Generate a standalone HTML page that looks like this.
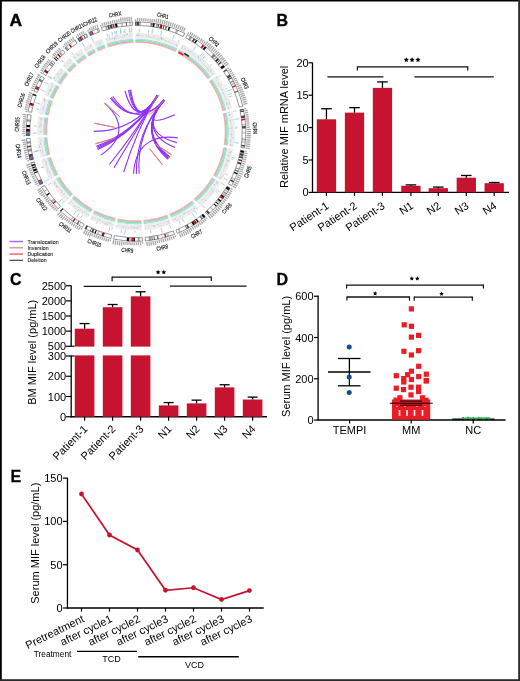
<!DOCTYPE html>
<html><head><meta charset="utf-8"><style>
html,body{margin:0;padding:0;background:#fff;width:520px;height:681px;overflow:hidden;}
svg{display:block;will-change:transform;}
text{font-family:"Liberation Sans", sans-serif;}
</style></head><body>
<svg width="520" height="681" viewBox="0 0 520 681">
<rect x="0" y="0" width="520" height="681" fill="#fff"/>
<g><path d="M135.56,42.20 A89.4,89.4 0 0 1 175.72,51.51" fill="none" stroke="#ffaec6" stroke-width="1.3"/><path d="M135.55,41.35 A90.25,90.25 0 0 1 176.10,50.75" fill="none" stroke="#d88a84" stroke-width="0.6"/><path d="M135.55,40.50 A91.1,91.1 0 0 1 176.48,49.99" fill="none" stroke="#80ec98" stroke-width="1.4"/><path d="M135.54,39.25 A92.35,92.35 0 0 1 177.03,48.87" fill="none" stroke="#a6d4fa" stroke-width="1.2"/><path d="M135.51,32.60 A99.0,99.0 0 0 1 179.99,42.91 L177.30,48.33 A92.95,92.95 0 0 0 135.54,38.65 Z" fill="#eeeeee"/><rect x="149.40" y="37.18" width="0.8" height="0.8" fill="#bbbbbb"/><rect x="138.37" y="34.86" width="0.8" height="0.8" fill="#aaaaaa"/><rect x="161.30" y="36.96" width="0.8" height="0.8" fill="#cccccc"/><rect x="136.80" y="35.19" width="0.8" height="0.8" fill="#bbbbbb"/><rect x="145.90" y="35.32" width="0.8" height="0.8" fill="#bbbbbb"/><rect x="170.80" y="43.03" width="0.8" height="0.8" fill="#cccccc"/><rect x="163.07" y="38.65" width="0.8" height="0.8" fill="#bbbbbb"/><rect x="160.59" y="38.62" width="0.8" height="0.8" fill="#cccccc"/><rect x="137.23" y="33.71" width="0.8" height="0.8" fill="#aaaaaa"/><rect x="153.81" y="36.54" width="0.8" height="0.8" fill="#aaaaaa"/><rect x="160.11" y="37.46" width="0.8" height="0.8" fill="#bbbbbb"/><rect x="161.00" y="37.86" width="0.8" height="0.8" fill="#aaaaaa"/><rect x="139.51" y="34.29" width="0.8" height="0.8" fill="#bbbbbb"/><rect x="162.48" y="38.79" width="0.8" height="0.8" fill="#d0d0d0"/><rect x="169.17" y="41.12" width="0.8" height="0.8" fill="#d0d0d0"/><rect x="151.11" y="37.10" width="0.8" height="0.8" fill="#cccccc"/><rect x="165.63" y="40.70" width="0.8" height="0.8" fill="#aaaaaa"/><rect x="158.74" y="36.42" width="0.8" height="0.8" fill="#d0d0d0"/><rect x="148.20" y="34.08" width="0.8" height="0.8" fill="#bbbbbb"/><rect x="157.58" y="38.70" width="0.8" height="0.8" fill="#aaaaaa"/><rect x="141.92" y="35.20" width="0.8" height="0.8" fill="#bbbbbb"/><rect x="176.20" y="45.57" width="0.8" height="0.8" fill="#aaaaaa"/><rect x="150.22" y="36.60" width="0.8" height="0.8" fill="#d0d0d0"/><rect x="160.76" y="38.46" width="0.8" height="0.8" fill="#bbbbbb"/><rect x="176.09" y="43.98" width="0.8" height="0.8" fill="#bbbbbb"/><rect x="137.86" y="34.27" width="0.8" height="0.8" fill="#d0d0d0"/><rect x="147.79" y="36.13" width="0.8" height="0.8" fill="#aaaaaa"/><rect x="136.13" y="35.09" width="0.8" height="0.8" fill="#cccccc"/><rect x="162.13" y="38.70" width="0.8" height="0.8" fill="#cccccc"/><rect x="168.39" y="42.09" width="0.8" height="0.8" fill="#cccccc"/><rect x="153.11" y="35.07" width="0.8" height="0.8" fill="#d0d0d0"/><path d="M135.86,36.00 A95.6,95.6 0 0 1 178.18,45.81" fill="none" stroke="#c8c8c8" stroke-width="0.7" stroke-dasharray="0.6 0.9"/><line x1="139.23" y1="32.45" x2="139.33" y2="29.16" stroke="#6aaee0" stroke-width="0.6"/><line x1="160.61" y1="35.50" x2="161.86" y2="30.63" stroke="#6aaee0" stroke-width="0.6"/><line x1="172.46" y1="39.34" x2="174.28" y2="34.73" stroke="#6aaee0" stroke-width="0.6"/><line x1="148.33" y1="33.17" x2="148.72" y2="30.03" stroke="#6aaee0" stroke-width="0.6"/><line x1="152.00" y1="33.70" x2="152.81" y2="28.73" stroke="#6aaee0" stroke-width="0.6"/><line x1="178.32" y1="41.88" x2="179.22" y2="39.98" stroke="#6aaee0" stroke-width="0.6"/><path d="M135.45,21.80 A109.8,109.8 0 0 1 184.79,33.23 L183.19,36.46 A106.2,106.2 0 0 0 135.47,25.40 Z" fill="#ffffff"/><path d="M135.45,21.80 A109.8,109.8 0 0 1 136.43,21.80 L136.42,25.40 A106.2,106.2 0 0 0 135.47,25.40 Z" fill="#111111"/><path d="M136.76,21.80 A109.8,109.8 0 0 1 139.07,21.84 L138.97,25.44 A106.2,106.2 0 0 0 136.73,25.40 Z" fill="#444444"/><path d="M139.39,21.85 A109.8,109.8 0 0 1 140.86,21.91 L140.70,25.50 A106.2,106.2 0 0 0 139.28,25.45 Z" fill="#999999"/><path d="M150.73,22.79 A109.8,109.8 0 0 1 152.47,23.04 L151.93,26.60 A106.2,106.2 0 0 0 150.25,26.36 Z" fill="#777777"/><path d="M152.93,23.11 A109.8,109.8 0 0 1 154.82,23.42 L154.20,26.97 A106.2,106.2 0 0 0 152.37,26.67 Z" fill="#000000"/><path d="M156.51,23.73 A109.8,109.8 0 0 1 158.00,24.03 L157.28,27.55 A106.2,106.2 0 0 0 155.84,27.27 Z" fill="#999999"/><path d="M158.37,24.10 A109.8,109.8 0 0 1 158.98,24.23 L158.22,27.75 A106.2,106.2 0 0 0 157.64,27.63 Z" fill="#000000"/><path d="M160.60,24.59 A109.8,109.8 0 0 1 162.43,25.03 L161.56,28.52 A106.2,106.2 0 0 0 159.80,28.10 Z" fill="#111111"/><path d="M163.58,25.32 A109.8,109.8 0 0 1 164.47,25.55 L163.53,29.03 A106.2,106.2 0 0 0 162.67,28.80 Z" fill="#444444"/><path d="M165.60,25.86 A109.8,109.8 0 0 1 167.12,26.30 L166.10,29.76 A106.2,106.2 0 0 0 164.63,29.33 Z" fill="#777777"/><path d="M168.78,26.81 A109.8,109.8 0 0 1 170.28,27.29 L169.15,30.71 A106.2,106.2 0 0 0 167.71,30.24 Z" fill="#000000"/><path d="M176.20,29.42 A109.8,109.8 0 0 1 178.58,30.39 L177.18,33.71 A106.2,106.2 0 0 0 174.88,32.77 Z" fill="#b4b4b4"/><path d="M184.52,33.10 A109.8,109.8 0 0 1 184.79,33.23 L183.19,36.46 A106.2,106.2 0 0 0 182.93,36.33 Z" fill="#cccccc"/><path d="M160.16,24.49 A109.8,109.8 0 0 1 161.56,24.82 L160.72,28.32 A106.2,106.2 0 0 0 159.37,28.00 Z" fill="#e8000b"/><path d="M135.45,21.80 A109.8,109.8 0 0 1 184.79,33.23 L183.19,36.46 A106.2,106.2 0 0 0 135.47,25.40 Z" fill="none" stroke="#333" stroke-width="0.5"/><line x1="135.45" y1="20.90" x2="135.44" y2="19.15" stroke="#a8a8a8" stroke-width="1.3"/><line x1="137.52" y1="20.91" x2="137.56" y2="17.91" stroke="#a8a8a8" stroke-width="1.3"/><line x1="139.58" y1="20.96" x2="139.68" y2="17.96" stroke="#a8a8a8" stroke-width="1.3"/><line x1="141.65" y1="21.04" x2="141.80" y2="18.05" stroke="#a8a8a8" stroke-width="1.3"/><line x1="143.71" y1="21.17" x2="143.92" y2="18.18" stroke="#a8a8a8" stroke-width="1.3"/><line x1="145.77" y1="21.33" x2="146.04" y2="18.34" stroke="#a8a8a8" stroke-width="1.3"/><line x1="147.83" y1="21.53" x2="148.15" y2="18.55" stroke="#a8a8a8" stroke-width="1.3"/><line x1="149.88" y1="21.77" x2="150.26" y2="18.80" stroke="#a8a8a8" stroke-width="1.3"/><line x1="151.93" y1="22.05" x2="152.36" y2="19.08" stroke="#a8a8a8" stroke-width="1.3"/><line x1="153.97" y1="22.37" x2="154.46" y2="19.41" stroke="#a8a8a8" stroke-width="1.3"/><line x1="156.01" y1="22.72" x2="156.78" y2="18.54" stroke="#a8a8a8" stroke-width="1.3"/><line x1="158.04" y1="23.12" x2="158.88" y2="18.95" stroke="#a8a8a8" stroke-width="1.3"/><line x1="160.06" y1="23.55" x2="160.98" y2="19.40" stroke="#a8a8a8" stroke-width="1.3"/><line x1="162.07" y1="24.01" x2="163.07" y2="19.88" stroke="#a8a8a8" stroke-width="1.3"/><line x1="164.08" y1="24.52" x2="165.16" y2="20.41" stroke="#a8a8a8" stroke-width="1.3"/><line x1="166.07" y1="25.06" x2="167.23" y2="20.97" stroke="#a8a8a8" stroke-width="1.3"/><line x1="168.06" y1="25.64" x2="169.29" y2="21.57" stroke="#a8a8a8" stroke-width="1.3"/><line x1="170.03" y1="26.26" x2="171.33" y2="22.22" stroke="#a8a8a8" stroke-width="1.3"/><line x1="171.99" y1="26.91" x2="173.37" y2="22.89" stroke="#a8a8a8" stroke-width="1.3"/><line x1="173.94" y1="27.60" x2="175.39" y2="23.61" stroke="#a8a8a8" stroke-width="1.3"/><line x1="175.87" y1="28.33" x2="177.40" y2="24.37" stroke="#a8a8a8" stroke-width="1.3"/><line x1="177.79" y1="29.09" x2="179.40" y2="25.16" stroke="#a8a8a8" stroke-width="1.3"/><line x1="179.70" y1="29.89" x2="181.38" y2="25.99" stroke="#a8a8a8" stroke-width="1.3"/><line x1="181.59" y1="30.72" x2="183.34" y2="26.85" stroke="#a8a8a8" stroke-width="1.3"/><line x1="183.47" y1="31.59" x2="185.29" y2="27.75" stroke="#a8a8a8" stroke-width="1.3"/><text x="0" y="2.0" font-size="5.9" text-anchor="middle" fill="#111" stroke="#111" stroke-width="0.15" transform="translate(162.87 15.67) rotate(13.05) scale(0.74 1)">CHR1</text><path d="M177.85,52.60 A89.4,89.4 0 0 1 208.26,78.96" fill="none" stroke="#ffaec6" stroke-width="1.3"/><path d="M178.25,51.85 A90.25,90.25 0 0 1 208.95,78.46" fill="none" stroke="#d88a84" stroke-width="0.6"/><path d="M178.64,51.10 A91.1,91.1 0 0 1 209.63,77.96" fill="none" stroke="#80ec98" stroke-width="1.4"/><path d="M179.23,49.99 A92.35,92.35 0 0 1 210.65,77.22" fill="none" stroke="#a6d4fa" stroke-width="1.2"/><path d="M182.34,44.12 A99.0,99.0 0 0 1 216.02,73.31 L211.13,76.87 A92.95,92.95 0 0 0 179.51,49.46 Z" fill="#eeeeee"/><rect x="200.01" y="59.67" width="0.8" height="0.8" fill="#cccccc"/><rect x="203.00" y="61.08" width="0.8" height="0.8" fill="#cccccc"/><rect x="208.95" y="67.17" width="0.8" height="0.8" fill="#cccccc"/><rect x="188.17" y="50.60" width="0.8" height="0.8" fill="#bbbbbb"/><rect x="213.95" y="73.56" width="0.8" height="0.8" fill="#d0d0d0"/><rect x="190.71" y="51.47" width="0.8" height="0.8" fill="#aaaaaa"/><rect x="197.86" y="55.80" width="0.8" height="0.8" fill="#aaaaaa"/><rect x="211.85" y="73.24" width="0.8" height="0.8" fill="#cccccc"/><rect x="184.50" y="48.42" width="0.8" height="0.8" fill="#aaaaaa"/><rect x="188.58" y="50.32" width="0.8" height="0.8" fill="#bbbbbb"/><rect x="198.31" y="57.48" width="0.8" height="0.8" fill="#bbbbbb"/><rect x="207.91" y="69.71" width="0.8" height="0.8" fill="#d0d0d0"/><rect x="208.08" y="66.54" width="0.8" height="0.8" fill="#d0d0d0"/><rect x="210.26" y="70.83" width="0.8" height="0.8" fill="#aaaaaa"/><rect x="184.75" y="46.64" width="0.8" height="0.8" fill="#d0d0d0"/><rect x="197.97" y="56.77" width="0.8" height="0.8" fill="#bbbbbb"/><rect x="204.89" y="66.06" width="0.8" height="0.8" fill="#cccccc"/><rect x="181.87" y="46.44" width="0.8" height="0.8" fill="#d0d0d0"/><rect x="207.19" y="68.73" width="0.8" height="0.8" fill="#d0d0d0"/><rect x="203.30" y="63.52" width="0.8" height="0.8" fill="#cccccc"/><rect x="181.98" y="45.67" width="0.8" height="0.8" fill="#bbbbbb"/><rect x="200.52" y="58.10" width="0.8" height="0.8" fill="#d0d0d0"/><rect x="212.19" y="74.69" width="0.8" height="0.8" fill="#cccccc"/><rect x="181.25" y="47.61" width="0.8" height="0.8" fill="#cccccc"/><rect x="206.43" y="66.93" width="0.8" height="0.8" fill="#d0d0d0"/><rect x="207.74" y="69.83" width="0.8" height="0.8" fill="#aaaaaa"/><rect x="211.13" y="70.62" width="0.8" height="0.8" fill="#d0d0d0"/><rect x="209.72" y="67.74" width="0.8" height="0.8" fill="#cccccc"/><rect x="199.74" y="59.33" width="0.8" height="0.8" fill="#bbbbbb"/><rect x="210.74" y="69.52" width="0.8" height="0.8" fill="#bbbbbb"/><rect x="206.33" y="67.74" width="0.8" height="0.8" fill="#cccccc"/><path d="M181.04,47.28 A95.6,95.6 0 0 1 213.07,75.04" fill="none" stroke="#c8c8c8" stroke-width="0.7" stroke-dasharray="0.6 0.9"/><line x1="200.07" y1="55.86" x2="202.91" y2="52.50" stroke="#6aaee0" stroke-width="0.6"/><line x1="202.88" y1="58.33" x2="204.77" y2="56.26" stroke="#6aaee0" stroke-width="0.6"/><line x1="201.60" y1="57.19" x2="204.06" y2="54.39" stroke="#6aaee0" stroke-width="0.6"/><line x1="210.08" y1="65.63" x2="211.52" y2="64.35" stroke="#6aaee0" stroke-width="0.6"/><line x1="203.00" y1="58.45" x2="204.69" y2="56.61" stroke="#6aaee0" stroke-width="0.6"/><line x1="193.06" y1="50.45" x2="195.70" y2="46.70" stroke="#6aaee0" stroke-width="0.6"/><path d="M187.40,34.57 A109.8,109.8 0 0 1 224.75,66.95 L221.84,69.07 A106.2,106.2 0 0 0 185.71,37.75 Z" fill="#ffffff"/><path d="M190.08,36.04 A109.8,109.8 0 0 1 192.22,37.29 L190.38,40.38 A106.2,106.2 0 0 0 188.30,39.17 Z" fill="#999999"/><path d="M193.68,38.17 A109.8,109.8 0 0 1 195.25,39.16 L193.31,42.19 A106.2,106.2 0 0 0 191.79,41.23 Z" fill="#444444"/><path d="M196.06,39.68 A109.8,109.8 0 0 1 197.48,40.63 L195.46,43.61 A106.2,106.2 0 0 0 194.09,42.69 Z" fill="#111111"/><path d="M203.69,45.14 A109.8,109.8 0 0 1 204.39,45.70 L202.15,48.52 A106.2,106.2 0 0 0 201.47,47.98 Z" fill="#777777"/><path d="M204.98,46.18 A109.8,109.8 0 0 1 206.52,47.44 L204.21,50.20 A106.2,106.2 0 0 0 202.72,48.98 Z" fill="#111111"/><path d="M213.65,53.96 A109.8,109.8 0 0 1 215.44,55.80 L212.84,58.29 A106.2,106.2 0 0 0 211.10,56.51 Z" fill="#777777"/><path d="M215.81,56.19 A109.8,109.8 0 0 1 217.16,57.65 L214.50,60.07 A106.2,106.2 0 0 0 213.20,58.67 Z" fill="#b4b4b4"/><path d="M217.78,58.34 A109.8,109.8 0 0 1 218.89,59.59 L216.17,61.95 A106.2,106.2 0 0 0 215.10,60.74 Z" fill="#111111"/><path d="M219.42,60.21 A109.8,109.8 0 0 1 219.95,60.82 L217.19,63.14 A106.2,106.2 0 0 0 216.69,62.55 Z" fill="#444444"/><path d="M220.65,61.67 A109.8,109.8 0 0 1 221.61,62.85 L218.80,65.10 A106.2,106.2 0 0 0 217.88,63.96 Z" fill="#444444"/><path d="M223.30,65.01 A109.8,109.8 0 0 1 224.75,66.95 L221.84,69.07 A106.2,106.2 0 0 0 220.44,67.19 Z" fill="#000000"/><path d="M202.87,44.51 A109.8,109.8 0 0 1 204.00,45.39 L201.77,48.22 A106.2,106.2 0 0 0 200.68,47.37 Z" fill="#e8000b"/><path d="M187.40,34.57 A109.8,109.8 0 0 1 224.75,66.95 L221.84,69.07 A106.2,106.2 0 0 0 185.71,37.75 Z" fill="none" stroke="#333" stroke-width="0.5"/><line x1="187.82" y1="33.78" x2="188.64" y2="32.23" stroke="#a8a8a8" stroke-width="1.3"/><line x1="189.64" y1="34.76" x2="191.09" y2="32.14" stroke="#a8a8a8" stroke-width="1.3"/><line x1="191.43" y1="35.78" x2="192.94" y2="33.18" stroke="#a8a8a8" stroke-width="1.3"/><line x1="193.21" y1="36.83" x2="194.76" y2="34.26" stroke="#a8a8a8" stroke-width="1.3"/><line x1="194.97" y1="37.92" x2="196.57" y2="35.38" stroke="#a8a8a8" stroke-width="1.3"/><line x1="196.71" y1="39.03" x2="198.36" y2="36.52" stroke="#a8a8a8" stroke-width="1.3"/><line x1="198.43" y1="40.18" x2="200.12" y2="37.71" stroke="#a8a8a8" stroke-width="1.3"/><line x1="200.13" y1="41.36" x2="201.86" y2="38.92" stroke="#a8a8a8" stroke-width="1.3"/><line x1="201.80" y1="42.58" x2="203.58" y2="40.16" stroke="#a8a8a8" stroke-width="1.3"/><line x1="203.45" y1="43.82" x2="205.28" y2="41.44" stroke="#a8a8a8" stroke-width="1.3"/><line x1="205.08" y1="45.10" x2="207.73" y2="41.78" stroke="#a8a8a8" stroke-width="1.3"/><line x1="206.68" y1="46.40" x2="209.39" y2="43.13" stroke="#a8a8a8" stroke-width="1.3"/><line x1="208.26" y1="47.74" x2="211.03" y2="44.52" stroke="#a8a8a8" stroke-width="1.3"/><line x1="209.81" y1="49.10" x2="212.65" y2="45.93" stroke="#a8a8a8" stroke-width="1.3"/><line x1="211.34" y1="50.49" x2="214.23" y2="47.38" stroke="#a8a8a8" stroke-width="1.3"/><line x1="212.84" y1="51.91" x2="215.79" y2="48.85" stroke="#a8a8a8" stroke-width="1.3"/><line x1="214.31" y1="53.36" x2="217.32" y2="50.36" stroke="#a8a8a8" stroke-width="1.3"/><line x1="215.76" y1="54.84" x2="218.82" y2="51.89" stroke="#a8a8a8" stroke-width="1.3"/><line x1="217.18" y1="56.34" x2="220.30" y2="53.45" stroke="#a8a8a8" stroke-width="1.3"/><line x1="218.57" y1="57.87" x2="221.74" y2="55.04" stroke="#a8a8a8" stroke-width="1.3"/><line x1="219.93" y1="59.42" x2="223.16" y2="56.65" stroke="#a8a8a8" stroke-width="1.3"/><line x1="221.27" y1="61.00" x2="224.54" y2="58.29" stroke="#a8a8a8" stroke-width="1.3"/><line x1="222.57" y1="62.61" x2="225.89" y2="59.96" stroke="#a8a8a8" stroke-width="1.3"/><line x1="223.84" y1="64.24" x2="227.22" y2="61.65" stroke="#a8a8a8" stroke-width="1.3"/><line x1="225.09" y1="65.89" x2="228.51" y2="63.36" stroke="#a8a8a8" stroke-width="1.3"/><text x="0" y="2.0" font-size="5.9" text-anchor="middle" fill="#111" stroke="#111" stroke-width="0.15" transform="translate(213.94 41.68) rotate(40.92) scale(0.74 1)">CHR2</text><path d="M209.64,80.91 A89.4,89.4 0 0 1 222.98,110.94" fill="none" stroke="#ffaec6" stroke-width="1.3"/><path d="M210.34,80.43 A90.25,90.25 0 0 1 223.81,110.75" fill="none" stroke="#d88a84" stroke-width="0.6"/><path d="M211.04,79.95 A91.1,91.1 0 0 1 224.64,110.55" fill="none" stroke="#80ec98" stroke-width="1.4"/><path d="M212.07,79.24 A92.35,92.35 0 0 1 225.85,110.26" fill="none" stroke="#a6d4fa" stroke-width="1.2"/><path d="M217.55,75.47 A99.0,99.0 0 0 1 232.32,108.73 L226.43,110.12 A92.95,92.95 0 0 0 212.56,78.90 Z" fill="#eeeeee"/><rect x="221.20" y="84.17" width="0.8" height="0.8" fill="#cccccc"/><rect x="218.80" y="85.44" width="0.8" height="0.8" fill="#d0d0d0"/><rect x="228.46" y="103.62" width="0.8" height="0.8" fill="#aaaaaa"/><rect x="222.27" y="89.04" width="0.8" height="0.8" fill="#d0d0d0"/><rect x="224.86" y="99.23" width="0.8" height="0.8" fill="#bbbbbb"/><rect x="226.29" y="102.43" width="0.8" height="0.8" fill="#bbbbbb"/><rect x="218.43" y="85.58" width="0.8" height="0.8" fill="#bbbbbb"/><rect x="225.98" y="102.60" width="0.8" height="0.8" fill="#cccccc"/><rect x="217.27" y="77.90" width="0.8" height="0.8" fill="#d0d0d0"/><rect x="216.54" y="75.99" width="0.8" height="0.8" fill="#d0d0d0"/><rect x="227.82" y="106.64" width="0.8" height="0.8" fill="#cccccc"/><rect x="216.35" y="77.49" width="0.8" height="0.8" fill="#bbbbbb"/><rect x="228.18" y="108.10" width="0.8" height="0.8" fill="#cccccc"/><rect x="218.16" y="83.02" width="0.8" height="0.8" fill="#aaaaaa"/><rect x="223.06" y="93.55" width="0.8" height="0.8" fill="#d0d0d0"/><rect x="222.53" y="92.59" width="0.8" height="0.8" fill="#aaaaaa"/><rect x="229.04" y="101.71" width="0.8" height="0.8" fill="#bbbbbb"/><rect x="215.87" y="76.62" width="0.8" height="0.8" fill="#cccccc"/><rect x="222.95" y="92.95" width="0.8" height="0.8" fill="#d0d0d0"/><rect x="217.91" y="79.19" width="0.8" height="0.8" fill="#d0d0d0"/><rect x="225.83" y="97.22" width="0.8" height="0.8" fill="#d0d0d0"/><rect x="228.34" y="108.10" width="0.8" height="0.8" fill="#cccccc"/><rect x="228.56" y="108.48" width="0.8" height="0.8" fill="#cccccc"/><rect x="221.65" y="89.29" width="0.8" height="0.8" fill="#bbbbbb"/><rect x="226.11" y="103.85" width="0.8" height="0.8" fill="#aaaaaa"/><path d="M214.94,77.67 A95.6,95.6 0 0 1 228.94,109.19" fill="none" stroke="#c8c8c8" stroke-width="0.7" stroke-dasharray="0.6 0.9"/><line x1="225.60" y1="89.02" x2="227.15" y2="88.28" stroke="#6aaee0" stroke-width="0.6"/><line x1="228.95" y1="96.94" x2="231.78" y2="95.88" stroke="#6aaee0" stroke-width="0.6"/><line x1="226.75" y1="91.53" x2="231.67" y2="89.36" stroke="#6aaee0" stroke-width="0.6"/><line x1="228.07" y1="94.67" x2="232.03" y2="93.08" stroke="#6aaee0" stroke-width="0.6"/><line x1="218.64" y1="76.73" x2="220.51" y2="75.49" stroke="#6aaee0" stroke-width="0.6"/><path d="M226.44,69.34 A109.8,109.8 0 0 1 242.83,106.23 L239.33,107.06 A106.2,106.2 0 0 0 223.48,71.38 Z" fill="#ffffff"/><path d="M226.44,69.34 A109.8,109.8 0 0 1 227.10,70.31 L224.11,72.32 A106.2,106.2 0 0 0 223.48,71.38 Z" fill="#444444"/><path d="M229.77,74.48 A109.8,109.8 0 0 1 231.10,76.71 L227.98,78.51 A106.2,106.2 0 0 0 226.70,76.35 Z" fill="#444444"/><path d="M231.38,77.21 A109.8,109.8 0 0 1 232.02,78.34 L228.87,80.09 A106.2,106.2 0 0 0 228.25,78.99 Z" fill="#444444"/><path d="M233.15,80.43 A109.8,109.8 0 0 1 233.68,81.45 L230.48,83.10 A106.2,106.2 0 0 0 229.96,82.10 Z" fill="#777777"/><path d="M234.20,82.48 A109.8,109.8 0 0 1 234.83,83.76 L231.59,85.32 A106.2,106.2 0 0 0 230.98,84.09 Z" fill="#b4b4b4"/><path d="M237.82,90.50 A109.8,109.8 0 0 1 238.34,91.81 L234.98,93.11 A106.2,106.2 0 0 0 234.48,91.84 Z" fill="#777777"/><path d="M235.37,84.88 A109.8,109.8 0 0 1 235.97,86.19 L232.69,87.68 A106.2,106.2 0 0 0 232.11,86.42 Z" fill="#e8000b"/><path d="M226.44,69.34 A109.8,109.8 0 0 1 242.83,106.23 L239.33,107.06 A106.2,106.2 0 0 0 223.48,71.38 Z" fill="none" stroke="#333" stroke-width="0.5"/><line x1="227.19" y1="68.83" x2="228.63" y2="67.84" stroke="#a8a8a8" stroke-width="1.3"/><line x1="228.34" y1="70.55" x2="230.84" y2="68.89" stroke="#a8a8a8" stroke-width="1.3"/><line x1="229.47" y1="72.28" x2="232.00" y2="70.67" stroke="#a8a8a8" stroke-width="1.3"/><line x1="230.56" y1="74.04" x2="233.12" y2="72.48" stroke="#a8a8a8" stroke-width="1.3"/><line x1="231.61" y1="75.81" x2="234.21" y2="74.30" stroke="#a8a8a8" stroke-width="1.3"/><line x1="232.64" y1="77.61" x2="235.26" y2="76.14" stroke="#a8a8a8" stroke-width="1.3"/><line x1="233.63" y1="79.42" x2="236.28" y2="78.01" stroke="#a8a8a8" stroke-width="1.3"/><line x1="234.59" y1="81.25" x2="237.26" y2="79.89" stroke="#a8a8a8" stroke-width="1.3"/><line x1="235.51" y1="83.10" x2="238.21" y2="81.79" stroke="#a8a8a8" stroke-width="1.3"/><line x1="236.40" y1="84.97" x2="239.12" y2="83.70" stroke="#a8a8a8" stroke-width="1.3"/><line x1="237.25" y1="86.85" x2="241.14" y2="85.13" stroke="#a8a8a8" stroke-width="1.3"/><line x1="238.07" y1="88.75" x2="241.99" y2="87.10" stroke="#a8a8a8" stroke-width="1.3"/><line x1="238.85" y1="90.66" x2="242.80" y2="89.09" stroke="#a8a8a8" stroke-width="1.3"/><line x1="239.60" y1="92.59" x2="243.58" y2="91.09" stroke="#a8a8a8" stroke-width="1.3"/><line x1="240.31" y1="94.53" x2="244.31" y2="93.11" stroke="#a8a8a8" stroke-width="1.3"/><line x1="240.98" y1="96.49" x2="245.01" y2="95.14" stroke="#a8a8a8" stroke-width="1.3"/><line x1="241.62" y1="98.45" x2="245.68" y2="97.18" stroke="#a8a8a8" stroke-width="1.3"/><line x1="242.22" y1="100.43" x2="246.30" y2="99.23" stroke="#a8a8a8" stroke-width="1.3"/><line x1="242.78" y1="102.42" x2="246.88" y2="101.30" stroke="#a8a8a8" stroke-width="1.3"/><line x1="243.31" y1="104.42" x2="247.43" y2="103.37" stroke="#a8a8a8" stroke-width="1.3"/><text x="0" y="2.0" font-size="5.9" text-anchor="middle" fill="#111" stroke="#111" stroke-width="0.15" transform="translate(244.75 83.29) rotate(66.05) scale(0.74 1)">CHR3</text><path d="M223.50,113.27 A89.4,89.4 0 0 1 224.39,145.00" fill="none" stroke="#ffaec6" stroke-width="1.3"/><path d="M224.33,113.10 A90.25,90.25 0 0 1 225.23,145.13" fill="none" stroke="#d88a84" stroke-width="0.6"/><path d="M225.17,112.93 A91.1,91.1 0 0 1 226.07,145.26" fill="none" stroke="#80ec98" stroke-width="1.4"/><path d="M226.39,112.67 A92.35,92.35 0 0 1 227.31,145.44" fill="none" stroke="#a6d4fa" stroke-width="1.2"/><path d="M232.90,111.31 A99.0,99.0 0 0 1 233.88,146.44 L227.90,145.53 A92.95,92.95 0 0 0 226.98,112.55 Z" fill="#eeeeee"/><rect x="231.88" y="142.05" width="0.8" height="0.8" fill="#cccccc"/><rect x="228.78" y="114.62" width="0.8" height="0.8" fill="#aaaaaa"/><rect x="230.53" y="144.19" width="0.8" height="0.8" fill="#d0d0d0"/><rect x="232.29" y="130.51" width="0.8" height="0.8" fill="#cccccc"/><rect x="230.06" y="128.19" width="0.8" height="0.8" fill="#bbbbbb"/><rect x="231.68" y="137.03" width="0.8" height="0.8" fill="#bbbbbb"/><rect x="230.29" y="133.93" width="0.8" height="0.8" fill="#d0d0d0"/><rect x="229.72" y="120.19" width="0.8" height="0.8" fill="#aaaaaa"/><rect x="232.02" y="119.31" width="0.8" height="0.8" fill="#cccccc"/><rect x="233.35" y="136.84" width="0.8" height="0.8" fill="#d0d0d0"/><rect x="229.94" y="140.22" width="0.8" height="0.8" fill="#aaaaaa"/><rect x="232.04" y="137.70" width="0.8" height="0.8" fill="#cccccc"/><rect x="229.10" y="114.30" width="0.8" height="0.8" fill="#aaaaaa"/><rect x="232.49" y="133.73" width="0.8" height="0.8" fill="#cccccc"/><rect x="228.39" y="112.20" width="0.8" height="0.8" fill="#aaaaaa"/><rect x="229.51" y="144.50" width="0.8" height="0.8" fill="#cccccc"/><rect x="231.06" y="134.52" width="0.8" height="0.8" fill="#aaaaaa"/><rect x="231.65" y="127.30" width="0.8" height="0.8" fill="#bbbbbb"/><rect x="230.97" y="145.43" width="0.8" height="0.8" fill="#aaaaaa"/><rect x="232.38" y="145.10" width="0.8" height="0.8" fill="#bbbbbb"/><rect x="229.86" y="121.45" width="0.8" height="0.8" fill="#d0d0d0"/><rect x="230.40" y="145.36" width="0.8" height="0.8" fill="#cccccc"/><rect x="228.89" y="114.24" width="0.8" height="0.8" fill="#aaaaaa"/><rect x="229.72" y="143.85" width="0.8" height="0.8" fill="#aaaaaa"/><path d="M229.64,112.33 A95.6,95.6 0 0 1 230.57,145.60" fill="none" stroke="#c8c8c8" stroke-width="0.7" stroke-dasharray="0.6 0.9"/><line x1="234.60" y1="142.50" x2="238.89" y2="142.97" stroke="#6aaee0" stroke-width="0.6"/><line x1="234.44" y1="119.34" x2="239.49" y2="118.71" stroke="#6aaee0" stroke-width="0.6"/><line x1="235.15" y1="128.33" x2="236.74" y2="128.28" stroke="#6aaee0" stroke-width="0.6"/><line x1="233.12" y1="111.39" x2="236.51" y2="110.68" stroke="#6aaee0" stroke-width="0.6"/><line x1="235.10" y1="127.08" x2="237.80" y2="126.96" stroke="#6aaee0" stroke-width="0.6"/><path d="M243.47,109.09 A109.8,109.8 0 0 1 244.56,148.06 L241.00,147.52 A106.2,106.2 0 0 0 239.94,109.83 Z" fill="#ffffff"/><path d="M243.47,109.09 A109.8,109.8 0 0 1 243.65,109.98 L240.12,110.69 A106.2,106.2 0 0 0 239.94,109.83 Z" fill="#444444"/><path d="M243.74,110.45 A109.8,109.8 0 0 1 243.99,111.72 L240.44,112.37 A106.2,106.2 0 0 0 240.21,111.14 Z" fill="#444444"/><path d="M244.59,115.37 A109.8,109.8 0 0 1 244.93,117.81 L241.36,118.27 A106.2,106.2 0 0 0 241.03,115.91 Z" fill="#444444"/><path d="M245.54,124.06 A109.8,109.8 0 0 1 245.62,125.25 L242.02,125.46 A106.2,106.2 0 0 0 241.95,124.31 Z" fill="#b4b4b4"/><path d="M245.66,125.97 A109.8,109.8 0 0 1 245.76,128.50 L242.16,128.60 A106.2,106.2 0 0 0 242.06,126.15 Z" fill="#444444"/><path d="M245.80,132.13 A109.8,109.8 0 0 1 245.78,133.62 L242.18,133.55 A106.2,106.2 0 0 0 242.20,132.11 Z" fill="#cccccc"/><path d="M245.59,138.41 A109.8,109.8 0 0 1 245.44,140.50 L241.85,140.20 A106.2,106.2 0 0 0 242.00,138.19 Z" fill="#b4b4b4"/><path d="M245.36,141.39 A109.8,109.8 0 0 1 245.18,143.26 L241.60,142.87 A106.2,106.2 0 0 0 241.78,141.07 Z" fill="#cccccc"/><path d="M244.96,145.17 A109.8,109.8 0 0 1 244.75,146.74 L241.19,146.24 A106.2,106.2 0 0 0 241.39,144.72 Z" fill="#444444"/><path d="M245.03,118.58 A109.8,109.8 0 0 1 245.19,120.00 L241.61,120.38 A106.2,106.2 0 0 0 241.45,119.00 Z" fill="#e8000b"/><path d="M243.47,109.09 A109.8,109.8 0 0 1 244.56,148.06 L241.00,147.52 A106.2,106.2 0 0 0 239.94,109.83 Z" fill="none" stroke="#333" stroke-width="0.5"/><line x1="244.35" y1="108.91" x2="246.06" y2="108.55" stroke="#a8a8a8" stroke-width="1.3"/><line x1="244.75" y1="110.93" x2="247.70" y2="110.37" stroke="#a8a8a8" stroke-width="1.3"/><line x1="245.12" y1="112.97" x2="248.08" y2="112.46" stroke="#a8a8a8" stroke-width="1.3"/><line x1="245.45" y1="115.01" x2="248.42" y2="114.56" stroke="#a8a8a8" stroke-width="1.3"/><line x1="245.74" y1="117.06" x2="248.71" y2="116.66" stroke="#a8a8a8" stroke-width="1.3"/><line x1="245.99" y1="119.11" x2="248.97" y2="118.77" stroke="#a8a8a8" stroke-width="1.3"/><line x1="246.21" y1="121.16" x2="249.19" y2="120.88" stroke="#a8a8a8" stroke-width="1.3"/><line x1="246.38" y1="123.22" x2="249.37" y2="123.00" stroke="#a8a8a8" stroke-width="1.3"/><line x1="246.52" y1="125.29" x2="249.51" y2="125.11" stroke="#a8a8a8" stroke-width="1.3"/><line x1="246.62" y1="127.35" x2="249.62" y2="127.23" stroke="#a8a8a8" stroke-width="1.3"/><line x1="246.68" y1="129.42" x2="250.93" y2="129.33" stroke="#a8a8a8" stroke-width="1.3"/><line x1="246.70" y1="131.48" x2="250.95" y2="131.48" stroke="#a8a8a8" stroke-width="1.3"/><line x1="246.68" y1="133.55" x2="250.93" y2="133.62" stroke="#a8a8a8" stroke-width="1.3"/><line x1="246.63" y1="135.62" x2="250.87" y2="135.77" stroke="#a8a8a8" stroke-width="1.3"/><line x1="246.53" y1="137.68" x2="250.78" y2="137.91" stroke="#a8a8a8" stroke-width="1.3"/><line x1="246.40" y1="139.74" x2="250.64" y2="140.06" stroke="#a8a8a8" stroke-width="1.3"/><line x1="246.23" y1="141.80" x2="250.46" y2="142.19" stroke="#a8a8a8" stroke-width="1.3"/><line x1="246.02" y1="143.86" x2="250.24" y2="144.33" stroke="#a8a8a8" stroke-width="1.3"/><line x1="245.77" y1="145.91" x2="249.99" y2="146.46" stroke="#a8a8a8" stroke-width="1.3"/><line x1="245.48" y1="147.96" x2="249.69" y2="148.59" stroke="#a8a8a8" stroke-width="1.3"/><text x="0" y="2.0" font-size="5.9" text-anchor="middle" fill="#111" stroke="#111" stroke-width="0.15" transform="translate(254.95 128.27) rotate(88.40) scale(0.74 1)">CHR4</text><path d="M224.00,147.36 A89.4,89.4 0 0 1 213.81,175.63" fill="none" stroke="#ffaec6" stroke-width="1.3"/><path d="M224.84,147.51 A90.25,90.25 0 0 1 214.55,176.05" fill="none" stroke="#d88a84" stroke-width="0.6"/><path d="M225.67,147.66 A91.1,91.1 0 0 1 215.29,176.47" fill="none" stroke="#80ec98" stroke-width="1.4"/><path d="M226.90,147.88 A92.35,92.35 0 0 1 216.37,177.08" fill="none" stroke="#a6d4fa" stroke-width="1.2"/><path d="M233.45,149.05 A99.0,99.0 0 0 1 222.16,180.36 L216.90,177.38 A92.95,92.95 0 0 0 227.50,147.98 Z" fill="#eeeeee"/><rect x="228.61" y="155.72" width="0.8" height="0.8" fill="#d0d0d0"/><rect x="230.07" y="152.09" width="0.8" height="0.8" fill="#bbbbbb"/><rect x="230.30" y="155.12" width="0.8" height="0.8" fill="#d0d0d0"/><rect x="225.42" y="165.32" width="0.8" height="0.8" fill="#aaaaaa"/><rect x="219.27" y="178.42" width="0.8" height="0.8" fill="#cccccc"/><rect x="224.77" y="164.99" width="0.8" height="0.8" fill="#cccccc"/><rect x="226.39" y="158.56" width="0.8" height="0.8" fill="#cccccc"/><rect x="228.54" y="160.11" width="0.8" height="0.8" fill="#cccccc"/><rect x="221.89" y="175.78" width="0.8" height="0.8" fill="#d0d0d0"/><rect x="228.19" y="160.50" width="0.8" height="0.8" fill="#cccccc"/><rect x="226.88" y="159.88" width="0.8" height="0.8" fill="#bbbbbb"/><rect x="226.41" y="163.88" width="0.8" height="0.8" fill="#aaaaaa"/><rect x="229.55" y="152.18" width="0.8" height="0.8" fill="#cccccc"/><rect x="231.13" y="151.41" width="0.8" height="0.8" fill="#d0d0d0"/><rect x="227.02" y="160.70" width="0.8" height="0.8" fill="#aaaaaa"/><rect x="222.85" y="174.84" width="0.8" height="0.8" fill="#bbbbbb"/><rect x="229.27" y="152.16" width="0.8" height="0.8" fill="#d0d0d0"/><rect x="219.84" y="177.68" width="0.8" height="0.8" fill="#bbbbbb"/><rect x="228.70" y="160.96" width="0.8" height="0.8" fill="#d0d0d0"/><rect x="219.04" y="177.39" width="0.8" height="0.8" fill="#bbbbbb"/><rect x="227.61" y="154.97" width="0.8" height="0.8" fill="#bbbbbb"/><rect x="220.97" y="177.31" width="0.8" height="0.8" fill="#d0d0d0"/><rect x="230.77" y="151.07" width="0.8" height="0.8" fill="#bbbbbb"/><path d="M230.04,148.78 A95.6,95.6 0 0 1 219.37,178.39" fill="none" stroke="#c8c8c8" stroke-width="0.7" stroke-dasharray="0.6 0.9"/><line x1="225.69" y1="173.98" x2="227.89" y2="175.02" stroke="#6aaee0" stroke-width="0.6"/><line x1="223.63" y1="178.10" x2="227.23" y2="180.02" stroke="#6aaee0" stroke-width="0.6"/><line x1="231.34" y1="158.99" x2="233.28" y2="159.55" stroke="#6aaee0" stroke-width="0.6"/><line x1="231.81" y1="157.31" x2="235.72" y2="158.36" stroke="#6aaee0" stroke-width="0.6"/><path d="M244.08,150.95 A109.8,109.8 0 0 1 231.56,185.67 L228.43,183.90 A106.2,106.2 0 0 0 240.54,150.32 Z" fill="#ffffff"/><path d="M244.08,150.95 A109.8,109.8 0 0 1 243.70,152.96 L240.17,152.26 A106.2,106.2 0 0 0 240.54,150.32 Z" fill="#000000"/><path d="M243.56,153.69 A109.8,109.8 0 0 1 243.01,156.18 L239.51,155.37 A106.2,106.2 0 0 0 240.03,152.96 Z" fill="#444444"/><path d="M242.87,156.79 A109.8,109.8 0 0 1 242.43,158.58 L238.94,157.70 A106.2,106.2 0 0 0 239.37,155.96 Z" fill="#444444"/><path d="M241.99,160.27 A109.8,109.8 0 0 1 241.68,161.41 L238.21,160.43 A106.2,106.2 0 0 0 238.52,159.33 Z" fill="#cccccc"/><path d="M241.24,162.92 A109.8,109.8 0 0 1 240.77,164.44 L237.34,163.37 A106.2,106.2 0 0 0 237.79,161.90 Z" fill="#111111"/><path d="M239.36,168.66 A109.8,109.8 0 0 1 239.09,169.39 L235.71,168.15 A106.2,106.2 0 0 0 235.97,167.44 Z" fill="#777777"/><path d="M238.52,170.92 A109.8,109.8 0 0 1 238.13,171.93 L234.78,170.61 A106.2,106.2 0 0 0 235.16,169.63 Z" fill="#444444"/><path d="M237.63,173.17 A109.8,109.8 0 0 1 237.10,174.42 L233.79,173.02 A106.2,106.2 0 0 0 234.29,171.81 Z" fill="#000000"/><path d="M235.40,178.24 A109.8,109.8 0 0 1 234.27,180.59 L231.04,178.98 A106.2,106.2 0 0 0 232.14,176.71 Z" fill="#cccccc"/><path d="M234.00,181.11 A109.8,109.8 0 0 1 233.29,182.51 L230.10,180.84 A106.2,106.2 0 0 0 230.79,179.49 Z" fill="#444444"/><path d="M242.08,159.93 A109.8,109.8 0 0 1 241.70,161.32 L238.24,160.34 A106.2,106.2 0 0 0 238.60,159.00 Z" fill="#e8000b"/><path d="M244.08,150.95 A109.8,109.8 0 0 1 231.56,185.67 L228.43,183.90 A106.2,106.2 0 0 0 240.54,150.32 Z" fill="none" stroke="#333" stroke-width="0.5"/><line x1="244.97" y1="151.11" x2="246.69" y2="151.42" stroke="#a8a8a8" stroke-width="1.3"/><line x1="244.58" y1="153.14" x2="247.53" y2="153.72" stroke="#a8a8a8" stroke-width="1.3"/><line x1="244.16" y1="155.16" x2="247.09" y2="155.80" stroke="#a8a8a8" stroke-width="1.3"/><line x1="243.70" y1="157.18" x2="246.62" y2="157.87" stroke="#a8a8a8" stroke-width="1.3"/><line x1="243.21" y1="159.19" x2="246.11" y2="159.93" stroke="#a8a8a8" stroke-width="1.3"/><line x1="242.67" y1="161.18" x2="245.56" y2="161.99" stroke="#a8a8a8" stroke-width="1.3"/><line x1="242.10" y1="163.17" x2="244.98" y2="164.03" stroke="#a8a8a8" stroke-width="1.3"/><line x1="241.49" y1="165.15" x2="244.35" y2="166.05" stroke="#a8a8a8" stroke-width="1.3"/><line x1="240.85" y1="167.11" x2="243.69" y2="168.07" stroke="#a8a8a8" stroke-width="1.3"/><line x1="240.17" y1="169.06" x2="242.99" y2="170.08" stroke="#a8a8a8" stroke-width="1.3"/><line x1="239.45" y1="171.00" x2="243.42" y2="172.51" stroke="#a8a8a8" stroke-width="1.3"/><line x1="238.70" y1="172.92" x2="242.64" y2="174.51" stroke="#a8a8a8" stroke-width="1.3"/><line x1="237.91" y1="174.83" x2="241.82" y2="176.49" stroke="#a8a8a8" stroke-width="1.3"/><line x1="237.08" y1="176.73" x2="240.96" y2="178.46" stroke="#a8a8a8" stroke-width="1.3"/><line x1="236.22" y1="178.61" x2="240.07" y2="180.41" stroke="#a8a8a8" stroke-width="1.3"/><line x1="235.33" y1="180.47" x2="239.14" y2="182.35" stroke="#a8a8a8" stroke-width="1.3"/><line x1="234.40" y1="182.32" x2="238.18" y2="184.26" stroke="#a8a8a8" stroke-width="1.3"/><line x1="233.43" y1="184.15" x2="237.17" y2="186.16" stroke="#a8a8a8" stroke-width="1.3"/><line x1="232.44" y1="185.96" x2="236.14" y2="188.04" stroke="#a8a8a8" stroke-width="1.3"/><text x="0" y="2.0" font-size="5.9" text-anchor="middle" fill="#111" stroke="#111" stroke-width="0.15" transform="translate(247.95 171.96) rotate(289.83) scale(0.74 1)">CHR5</text><path d="M212.60,177.69 A89.4,89.4 0 0 1 194.25,199.42" fill="none" stroke="#ffaec6" stroke-width="1.3"/><path d="M213.33,178.13 A90.25,90.25 0 0 1 194.81,200.06" fill="none" stroke="#d88a84" stroke-width="0.6"/><path d="M214.06,178.57 A91.1,91.1 0 0 1 195.36,200.71" fill="none" stroke="#80ec98" stroke-width="1.4"/><path d="M215.13,179.21 A92.35,92.35 0 0 1 196.17,201.65" fill="none" stroke="#a6d4fa" stroke-width="1.2"/><path d="M220.83,182.64 A99.0,99.0 0 0 1 200.51,206.70 L196.56,202.11 A92.95,92.95 0 0 0 215.65,179.52 Z" fill="#eeeeee"/><rect x="210.53" y="193.88" width="0.8" height="0.8" fill="#bbbbbb"/><rect x="198.68" y="202.25" width="0.8" height="0.8" fill="#d0d0d0"/><rect x="215.79" y="181.36" width="0.8" height="0.8" fill="#cccccc"/><rect x="211.36" y="191.76" width="0.8" height="0.8" fill="#cccccc"/><rect x="212.30" y="191.63" width="0.8" height="0.8" fill="#aaaaaa"/><rect x="205.56" y="199.82" width="0.8" height="0.8" fill="#cccccc"/><rect x="211.53" y="188.54" width="0.8" height="0.8" fill="#d0d0d0"/><rect x="218.05" y="181.96" width="0.8" height="0.8" fill="#d0d0d0"/><rect x="203.15" y="202.12" width="0.8" height="0.8" fill="#d0d0d0"/><rect x="213.83" y="184.23" width="0.8" height="0.8" fill="#aaaaaa"/><rect x="216.53" y="182.78" width="0.8" height="0.8" fill="#bbbbbb"/><rect x="208.58" y="195.33" width="0.8" height="0.8" fill="#d0d0d0"/><rect x="212.79" y="190.56" width="0.8" height="0.8" fill="#d0d0d0"/><rect x="217.25" y="183.50" width="0.8" height="0.8" fill="#cccccc"/><rect x="212.75" y="191.17" width="0.8" height="0.8" fill="#cccccc"/><rect x="213.18" y="189.56" width="0.8" height="0.8" fill="#d0d0d0"/><rect x="217.32" y="181.45" width="0.8" height="0.8" fill="#d0d0d0"/><rect x="216.04" y="181.03" width="0.8" height="0.8" fill="#bbbbbb"/><rect x="201.71" y="199.03" width="0.8" height="0.8" fill="#cccccc"/><rect x="204.99" y="199.90" width="0.8" height="0.8" fill="#aaaaaa"/><rect x="211.32" y="189.68" width="0.8" height="0.8" fill="#bbbbbb"/><path d="M217.74,181.17 A95.6,95.6 0 0 1 198.54,203.90" fill="none" stroke="#c8c8c8" stroke-width="0.7" stroke-dasharray="0.6 0.9"/><line x1="216.42" y1="189.67" x2="219.96" y2="192.23" stroke="#6aaee0" stroke-width="0.6"/><line x1="215.40" y1="191.06" x2="217.49" y2="192.62" stroke="#6aaee0" stroke-width="0.6"/><line x1="220.94" y1="182.84" x2="224.81" y2="185.18" stroke="#6aaee0" stroke-width="0.6"/><line x1="202.62" y1="205.10" x2="205.33" y2="208.09" stroke="#6aaee0" stroke-width="0.6"/><path d="M230.08,188.21 A109.8,109.8 0 0 1 207.54,214.89 L205.20,212.16 A106.2,106.2 0 0 0 227.00,186.35 Z" fill="#ffffff"/><path d="M230.08,188.21 A109.8,109.8 0 0 1 228.74,190.38 L225.70,188.45 A106.2,106.2 0 0 0 227.00,186.35 Z" fill="#111111"/><path d="M228.50,190.76 A109.8,109.8 0 0 1 227.36,192.51 L224.36,190.51 A106.2,106.2 0 0 0 225.46,188.83 Z" fill="#cccccc"/><path d="M226.88,193.22 A109.8,109.8 0 0 1 226.24,194.16 L223.28,192.10 A106.2,106.2 0 0 0 223.90,191.20 Z" fill="#777777"/><path d="M225.95,194.56 A109.8,109.8 0 0 1 225.01,195.89 L222.09,193.79 A106.2,106.2 0 0 0 223.00,192.50 Z" fill="#b4b4b4"/><path d="M224.57,196.50 A109.8,109.8 0 0 1 223.35,198.13 L220.49,195.94 A106.2,106.2 0 0 0 221.67,194.37 Z" fill="#111111"/><path d="M222.88,198.74 A109.8,109.8 0 0 1 222.10,199.74 L219.27,197.51 A106.2,106.2 0 0 0 220.03,196.54 Z" fill="#cccccc"/><path d="M221.37,200.65 A109.8,109.8 0 0 1 220.31,201.94 L217.55,199.63 A106.2,106.2 0 0 0 218.57,198.39 Z" fill="#111111"/><path d="M219.89,202.44 A109.8,109.8 0 0 1 219.40,203.01 L216.67,200.67 A106.2,106.2 0 0 0 217.14,200.12 Z" fill="#999999"/><path d="M218.69,203.84 A109.8,109.8 0 0 1 218.07,204.55 L215.38,202.15 A106.2,106.2 0 0 0 215.98,201.47 Z" fill="#000000"/><path d="M216.91,205.83 A109.8,109.8 0 0 1 216.12,206.68 L213.50,204.21 A106.2,106.2 0 0 0 214.26,203.39 Z" fill="#000000"/><path d="M213.26,209.62 A109.8,109.8 0 0 1 212.62,210.24 L210.11,207.66 A106.2,106.2 0 0 0 210.72,207.06 Z" fill="#b4b4b4"/><path d="M209.89,212.82 A109.8,109.8 0 0 1 208.23,214.29 L205.86,211.58 A106.2,106.2 0 0 0 207.46,210.16 Z" fill="#444444"/><path d="M223.48,197.96 A109.8,109.8 0 0 1 222.60,199.10 L219.76,196.89 A106.2,106.2 0 0 0 220.61,195.79 Z" fill="#e8000b"/><path d="M230.08,188.21 A109.8,109.8 0 0 1 207.54,214.89 L205.20,212.16 A106.2,106.2 0 0 0 227.00,186.35 Z" fill="none" stroke="#333" stroke-width="0.5"/><line x1="230.85" y1="188.67" x2="232.35" y2="189.57" stroke="#a8a8a8" stroke-width="1.3"/><line x1="229.77" y1="190.43" x2="232.31" y2="192.03" stroke="#a8a8a8" stroke-width="1.3"/><line x1="228.66" y1="192.17" x2="231.17" y2="193.81" stroke="#a8a8a8" stroke-width="1.3"/><line x1="227.51" y1="193.89" x2="229.99" y2="195.58" stroke="#a8a8a8" stroke-width="1.3"/><line x1="226.33" y1="195.59" x2="228.78" y2="197.32" stroke="#a8a8a8" stroke-width="1.3"/><line x1="225.12" y1="197.27" x2="227.54" y2="199.04" stroke="#a8a8a8" stroke-width="1.3"/><line x1="223.88" y1="198.92" x2="226.26" y2="200.74" stroke="#a8a8a8" stroke-width="1.3"/><line x1="222.61" y1="200.55" x2="224.95" y2="202.42" stroke="#a8a8a8" stroke-width="1.3"/><line x1="221.30" y1="202.15" x2="223.62" y2="204.06" stroke="#a8a8a8" stroke-width="1.3"/><line x1="219.97" y1="203.73" x2="222.25" y2="205.69" stroke="#a8a8a8" stroke-width="1.3"/><line x1="218.61" y1="205.29" x2="221.78" y2="208.12" stroke="#a8a8a8" stroke-width="1.3"/><line x1="217.22" y1="206.82" x2="220.34" y2="209.70" stroke="#a8a8a8" stroke-width="1.3"/><line x1="215.80" y1="208.32" x2="218.87" y2="211.27" stroke="#a8a8a8" stroke-width="1.3"/><line x1="214.36" y1="209.80" x2="217.36" y2="212.80" stroke="#a8a8a8" stroke-width="1.3"/><line x1="212.88" y1="211.25" x2="215.83" y2="214.30" stroke="#a8a8a8" stroke-width="1.3"/><line x1="211.38" y1="212.67" x2="214.28" y2="215.78" stroke="#a8a8a8" stroke-width="1.3"/><line x1="209.86" y1="214.06" x2="212.69" y2="217.23" stroke="#a8a8a8" stroke-width="1.3"/><line x1="208.30" y1="215.43" x2="211.08" y2="218.64" stroke="#a8a8a8" stroke-width="1.3"/><text x="0" y="2.0" font-size="5.9" text-anchor="middle" fill="#111" stroke="#111" stroke-width="0.15" transform="translate(226.91 208.39) rotate(310.19) scale(0.74 1)">CHR6</text><path d="M192.42,200.95 A89.4,89.4 0 0 1 169.65,214.43" fill="none" stroke="#ffaec6" stroke-width="1.3"/><path d="M192.96,201.61 A90.25,90.25 0 0 1 169.97,215.21" fill="none" stroke="#d88a84" stroke-width="0.6"/><path d="M193.49,202.27 A91.1,91.1 0 0 1 170.29,216.00" fill="none" stroke="#80ec98" stroke-width="1.4"/><path d="M194.28,203.24 A92.35,92.35 0 0 1 170.76,217.16" fill="none" stroke="#a6d4fa" stroke-width="1.2"/><path d="M198.48,208.39 A99.0,99.0 0 0 1 173.26,223.32 L170.99,217.71 A92.95,92.95 0 0 0 194.66,203.70 Z" fill="#eeeeee"/><rect x="188.17" y="212.82" width="0.8" height="0.8" fill="#cccccc"/><rect x="185.53" y="212.20" width="0.8" height="0.8" fill="#cccccc"/><rect x="193.68" y="209.63" width="0.8" height="0.8" fill="#cccccc"/><rect x="188.63" y="211.09" width="0.8" height="0.8" fill="#cccccc"/><rect x="183.97" y="213.33" width="0.8" height="0.8" fill="#bbbbbb"/><rect x="181.61" y="217.69" width="0.8" height="0.8" fill="#bbbbbb"/><rect x="197.09" y="206.98" width="0.8" height="0.8" fill="#cccccc"/><rect x="176.62" y="219.87" width="0.8" height="0.8" fill="#bbbbbb"/><rect x="174.68" y="218.13" width="0.8" height="0.8" fill="#bbbbbb"/><rect x="193.02" y="210.50" width="0.8" height="0.8" fill="#cccccc"/><rect x="173.49" y="219.19" width="0.8" height="0.8" fill="#cccccc"/><rect x="185.43" y="212.56" width="0.8" height="0.8" fill="#bbbbbb"/><rect x="194.17" y="208.00" width="0.8" height="0.8" fill="#aaaaaa"/><rect x="191.13" y="209.26" width="0.8" height="0.8" fill="#cccccc"/><rect x="196.44" y="208.02" width="0.8" height="0.8" fill="#bbbbbb"/><rect x="182.41" y="215.90" width="0.8" height="0.8" fill="#cccccc"/><rect x="177.15" y="219.25" width="0.8" height="0.8" fill="#d0d0d0"/><rect x="179.66" y="215.53" width="0.8" height="0.8" fill="#aaaaaa"/><rect x="193.59" y="205.95" width="0.8" height="0.8" fill="#d0d0d0"/><rect x="182.68" y="213.39" width="0.8" height="0.8" fill="#bbbbbb"/><path d="M196.07,205.97 A95.6,95.6 0 0 1 172.29,220.04" fill="none" stroke="#c8c8c8" stroke-width="0.7" stroke-dasharray="0.6 0.9"/><line x1="178.84" y1="221.07" x2="180.63" y2="224.82" stroke="#6aaee0" stroke-width="0.6"/><line x1="195.01" y1="211.34" x2="197.17" y2="214.26" stroke="#6aaee0" stroke-width="0.6"/><line x1="182.60" y1="219.18" x2="184.05" y2="221.90" stroke="#6aaee0" stroke-width="0.6"/><line x1="192.21" y1="213.34" x2="195.30" y2="217.83" stroke="#6aaee0" stroke-width="0.6"/><path d="M205.29,216.77 A109.8,109.8 0 0 1 177.33,233.33 L175.97,229.99 A106.2,106.2 0 0 0 203.02,213.98 Z" fill="#ffffff"/><path d="M205.29,216.77 A109.8,109.8 0 0 1 203.74,218.01 L201.52,215.18 A106.2,106.2 0 0 0 203.02,213.98 Z" fill="#000000"/><path d="M203.15,218.47 A109.8,109.8 0 0 1 201.73,219.55 L199.58,216.67 A106.2,106.2 0 0 0 200.95,215.63 Z" fill="#777777"/><path d="M198.69,221.74 A109.8,109.8 0 0 1 197.52,222.55 L195.50,219.56 A106.2,106.2 0 0 0 196.63,218.79 Z" fill="#000000"/><path d="M196.75,223.06 A109.8,109.8 0 0 1 195.97,223.58 L194.00,220.56 A106.2,106.2 0 0 0 194.76,220.06 Z" fill="#000000"/><path d="M195.22,224.06 A109.8,109.8 0 0 1 193.16,225.35 L191.29,222.27 A106.2,106.2 0 0 0 193.28,221.03 Z" fill="#111111"/><path d="M192.74,225.60 A109.8,109.8 0 0 1 192.12,225.97 L190.28,222.88 A106.2,106.2 0 0 0 190.88,222.52 Z" fill="#cccccc"/><path d="M189.30,227.59 A109.8,109.8 0 0 1 187.86,228.38 L186.16,225.21 A106.2,106.2 0 0 0 187.56,224.45 Z" fill="#444444"/><path d="M187.38,228.64 A109.8,109.8 0 0 1 186.52,229.09 L184.87,225.89 A106.2,106.2 0 0 0 185.69,225.46 Z" fill="#777777"/><path d="M180.71,231.88 A109.8,109.8 0 0 1 179.24,232.53 L177.82,229.22 A106.2,106.2 0 0 0 179.25,228.60 Z" fill="#b4b4b4"/><path d="M195.96,223.58 A109.8,109.8 0 0 1 194.75,224.36 L192.82,221.32 A106.2,106.2 0 0 0 193.99,220.57 Z" fill="#e8000b"/><path d="M205.29,216.77 A109.8,109.8 0 0 1 177.33,233.33 L175.97,229.99 A106.2,106.2 0 0 0 203.02,213.98 Z" fill="none" stroke="#333" stroke-width="0.5"/><line x1="205.86" y1="217.47" x2="206.97" y2="218.83" stroke="#a8a8a8" stroke-width="1.3"/><line x1="204.25" y1="218.76" x2="206.10" y2="221.12" stroke="#a8a8a8" stroke-width="1.3"/><line x1="202.61" y1="220.02" x2="204.41" y2="222.41" stroke="#a8a8a8" stroke-width="1.3"/><line x1="200.95" y1="221.25" x2="202.71" y2="223.68" stroke="#a8a8a8" stroke-width="1.3"/><line x1="199.26" y1="222.44" x2="200.97" y2="224.91" stroke="#a8a8a8" stroke-width="1.3"/><line x1="197.55" y1="223.61" x2="199.22" y2="226.10" stroke="#a8a8a8" stroke-width="1.3"/><line x1="195.82" y1="224.74" x2="197.45" y2="227.27" stroke="#a8a8a8" stroke-width="1.3"/><line x1="194.08" y1="225.84" x2="195.65" y2="228.40" stroke="#a8a8a8" stroke-width="1.3"/><line x1="192.31" y1="226.91" x2="193.83" y2="229.49" stroke="#a8a8a8" stroke-width="1.3"/><line x1="190.52" y1="227.95" x2="191.99" y2="230.56" stroke="#a8a8a8" stroke-width="1.3"/><line x1="188.71" y1="228.95" x2="190.73" y2="232.68" stroke="#a8a8a8" stroke-width="1.3"/><line x1="186.88" y1="229.91" x2="188.83" y2="233.69" stroke="#a8a8a8" stroke-width="1.3"/><line x1="185.04" y1="230.85" x2="186.92" y2="234.66" stroke="#a8a8a8" stroke-width="1.3"/><line x1="183.17" y1="231.75" x2="184.99" y2="235.59" stroke="#a8a8a8" stroke-width="1.3"/><line x1="181.30" y1="232.61" x2="183.04" y2="236.49" stroke="#a8a8a8" stroke-width="1.3"/><line x1="179.40" y1="233.44" x2="181.07" y2="237.35" stroke="#a8a8a8" stroke-width="1.3"/><text x="0" y="2.0" font-size="5.9" text-anchor="middle" fill="#111" stroke="#111" stroke-width="0.15" transform="translate(196.61 234.01) rotate(329.38) scale(0.74 1)">CHR7</text><path d="M167.43,215.29 A89.4,89.4 0 0 1 143.66,220.67" fill="none" stroke="#ffaec6" stroke-width="1.3"/><path d="M167.72,216.09 A90.25,90.25 0 0 1 143.74,221.52" fill="none" stroke="#d88a84" stroke-width="0.6"/><path d="M168.02,216.89 A91.1,91.1 0 0 1 143.81,222.36" fill="none" stroke="#80ec98" stroke-width="1.4"/><path d="M168.46,218.06 A92.35,92.35 0 0 1 143.92,223.61" fill="none" stroke="#a6d4fa" stroke-width="1.2"/><path d="M170.80,224.28 A99.0,99.0 0 0 1 144.49,230.24 L143.97,224.21 A92.95,92.95 0 0 0 168.67,218.62 Z" fill="#eeeeee"/><rect x="165.76" y="223.65" width="0.8" height="0.8" fill="#cccccc"/><rect x="153.80" y="226.12" width="0.8" height="0.8" fill="#cccccc"/><rect x="148.17" y="225.51" width="0.8" height="0.8" fill="#cccccc"/><rect x="168.93" y="223.13" width="0.8" height="0.8" fill="#cccccc"/><rect x="159.49" y="223.08" width="0.8" height="0.8" fill="#cccccc"/><rect x="144.72" y="228.13" width="0.8" height="0.8" fill="#cccccc"/><rect x="168.49" y="221.89" width="0.8" height="0.8" fill="#bbbbbb"/><rect x="152.40" y="225.35" width="0.8" height="0.8" fill="#d0d0d0"/><rect x="154.31" y="225.79" width="0.8" height="0.8" fill="#aaaaaa"/><rect x="152.88" y="225.20" width="0.8" height="0.8" fill="#cccccc"/><rect x="158.88" y="225.17" width="0.8" height="0.8" fill="#d0d0d0"/><rect x="156.50" y="224.00" width="0.8" height="0.8" fill="#bbbbbb"/><rect x="153.77" y="225.68" width="0.8" height="0.8" fill="#cccccc"/><rect x="158.30" y="225.16" width="0.8" height="0.8" fill="#d0d0d0"/><rect x="148.27" y="227.71" width="0.8" height="0.8" fill="#d0d0d0"/><rect x="166.36" y="221.03" width="0.8" height="0.8" fill="#d0d0d0"/><rect x="160.55" y="225.25" width="0.8" height="0.8" fill="#bbbbbb"/><rect x="167.99" y="220.46" width="0.8" height="0.8" fill="#aaaaaa"/><path d="M169.29,221.22 A95.6,95.6 0 0 1 144.53,226.82" fill="none" stroke="#c8c8c8" stroke-width="0.7" stroke-dasharray="0.6 0.9"/><line x1="150.49" y1="229.74" x2="151.01" y2="233.24" stroke="#6aaee0" stroke-width="0.6"/><line x1="169.49" y1="224.98" x2="170.68" y2="228.29" stroke="#6aaee0" stroke-width="0.6"/><line x1="161.11" y1="227.57" x2="162.45" y2="232.70" stroke="#6aaee0" stroke-width="0.6"/><path d="M174.60,234.39 A109.8,109.8 0 0 1 145.41,241.00 L145.10,237.41 A106.2,106.2 0 0 0 173.33,231.02 Z" fill="#ffffff"/><path d="M169.56,236.15 A109.8,109.8 0 0 1 167.05,236.92 L166.03,233.47 A106.2,106.2 0 0 0 168.46,232.72 Z" fill="#cccccc"/><path d="M162.98,238.03 A109.8,109.8 0 0 1 162.25,238.22 L161.39,234.72 A106.2,106.2 0 0 0 162.10,234.54 Z" fill="#cccccc"/><path d="M158.79,239.01 A109.8,109.8 0 0 1 157.27,239.32 L156.57,235.79 A106.2,106.2 0 0 0 158.04,235.49 Z" fill="#777777"/><path d="M154.79,239.78 A109.8,109.8 0 0 1 154.11,239.90 L153.51,236.35 A106.2,106.2 0 0 0 154.17,236.23 Z" fill="#111111"/><path d="M152.90,240.09 A109.8,109.8 0 0 1 151.73,240.27 L151.21,236.70 A106.2,106.2 0 0 0 152.35,236.53 Z" fill="#777777"/><path d="M151.18,240.35 A109.8,109.8 0 0 1 148.98,240.63 L148.55,237.06 A106.2,106.2 0 0 0 150.69,236.78 Z" fill="#999999"/><path d="M166.41,237.11 A109.8,109.8 0 0 1 165.02,237.49 L164.07,234.02 A106.2,106.2 0 0 0 165.41,233.65 Z" fill="#e8000b"/><path d="M174.60,234.39 A109.8,109.8 0 0 1 145.41,241.00 L145.10,237.41 A106.2,106.2 0 0 0 173.33,231.02 Z" fill="none" stroke="#333" stroke-width="0.5"/><line x1="174.91" y1="235.24" x2="175.53" y2="236.87" stroke="#a8a8a8" stroke-width="1.3"/><line x1="172.97" y1="235.94" x2="173.97" y2="238.77" stroke="#a8a8a8" stroke-width="1.3"/><line x1="171.02" y1="236.62" x2="171.97" y2="239.46" stroke="#a8a8a8" stroke-width="1.3"/><line x1="169.05" y1="237.25" x2="169.95" y2="240.11" stroke="#a8a8a8" stroke-width="1.3"/><line x1="167.07" y1="237.85" x2="167.91" y2="240.73" stroke="#a8a8a8" stroke-width="1.3"/><line x1="165.08" y1="238.41" x2="165.87" y2="241.31" stroke="#a8a8a8" stroke-width="1.3"/><line x1="163.08" y1="238.94" x2="163.82" y2="241.84" stroke="#a8a8a8" stroke-width="1.3"/><line x1="161.07" y1="239.42" x2="161.75" y2="242.34" stroke="#a8a8a8" stroke-width="1.3"/><line x1="159.06" y1="239.87" x2="159.68" y2="242.81" stroke="#a8a8a8" stroke-width="1.3"/><line x1="157.03" y1="240.28" x2="157.60" y2="243.23" stroke="#a8a8a8" stroke-width="1.3"/><line x1="155.00" y1="240.66" x2="155.73" y2="244.84" stroke="#a8a8a8" stroke-width="1.3"/><line x1="152.96" y1="240.99" x2="153.61" y2="245.19" stroke="#a8a8a8" stroke-width="1.3"/><line x1="150.91" y1="241.29" x2="151.49" y2="245.50" stroke="#a8a8a8" stroke-width="1.3"/><line x1="148.86" y1="241.55" x2="149.36" y2="245.77" stroke="#a8a8a8" stroke-width="1.3"/><line x1="146.81" y1="241.77" x2="147.22" y2="246.00" stroke="#a8a8a8" stroke-width="1.3"/><text x="0" y="2.0" font-size="5.9" text-anchor="middle" fill="#111" stroke="#111" stroke-width="0.15" transform="translate(162.26 247.67) rotate(347.25) scale(0.74 1)">CHR8</text><path d="M141.28,220.84 A89.4,89.4 0 0 1 117.84,219.14" fill="none" stroke="#ffaec6" stroke-width="1.3"/><path d="M141.33,221.69 A90.25,90.25 0 0 1 117.67,219.97" fill="none" stroke="#d88a84" stroke-width="0.6"/><path d="M141.38,222.54 A91.1,91.1 0 0 1 117.50,220.80" fill="none" stroke="#80ec98" stroke-width="1.4"/><path d="M141.46,223.79 A92.35,92.35 0 0 1 117.24,222.03" fill="none" stroke="#a6d4fa" stroke-width="1.2"/><path d="M141.85,230.43 A99.0,99.0 0 0 1 115.89,228.54 L117.12,222.61 A92.95,92.95 0 0 0 141.49,224.39 Z" fill="#eeeeee"/><rect x="128.02" y="227.81" width="0.8" height="0.8" fill="#bbbbbb"/><rect x="134.89" y="227.57" width="0.8" height="0.8" fill="#d0d0d0"/><rect x="122.67" y="226.12" width="0.8" height="0.8" fill="#d0d0d0"/><rect x="116.23" y="225.76" width="0.8" height="0.8" fill="#aaaaaa"/><rect x="132.94" y="225.95" width="0.8" height="0.8" fill="#cccccc"/><rect x="136.82" y="228.29" width="0.8" height="0.8" fill="#bbbbbb"/><rect x="133.77" y="227.49" width="0.8" height="0.8" fill="#aaaaaa"/><rect x="124.91" y="228.56" width="0.8" height="0.8" fill="#aaaaaa"/><rect x="122.61" y="227.44" width="0.8" height="0.8" fill="#cccccc"/><rect x="137.51" y="227.84" width="0.8" height="0.8" fill="#d0d0d0"/><rect x="130.72" y="226.85" width="0.8" height="0.8" fill="#bbbbbb"/><rect x="137.92" y="226.47" width="0.8" height="0.8" fill="#bbbbbb"/><rect x="140.63" y="225.58" width="0.8" height="0.8" fill="#aaaaaa"/><rect x="133.58" y="227.51" width="0.8" height="0.8" fill="#cccccc"/><rect x="130.84" y="226.64" width="0.8" height="0.8" fill="#cccccc"/><rect x="136.11" y="227.88" width="0.8" height="0.8" fill="#d0d0d0"/><rect x="137.24" y="225.74" width="0.8" height="0.8" fill="#cccccc"/><rect x="123.39" y="226.50" width="0.8" height="0.8" fill="#bbbbbb"/><path d="M141.32,227.05 A95.6,95.6 0 0 1 116.91,225.27" fill="none" stroke="#c8c8c8" stroke-width="0.7" stroke-dasharray="0.6 0.9"/><line x1="125.20" y1="230.21" x2="124.65" y2="235.17" stroke="#6aaee0" stroke-width="0.6"/><line x1="121.46" y1="229.73" x2="121.01" y2="232.80" stroke="#6aaee0" stroke-width="0.6"/><line x1="134.96" y1="230.79" x2="134.94" y2="232.34" stroke="#6aaee0" stroke-width="0.6"/><path d="M142.49,241.21 A109.8,109.8 0 0 1 113.70,239.11 L114.43,235.59 A106.2,106.2 0 0 0 142.28,237.61 Z" fill="#ffffff"/><path d="M139.74,241.34 A109.8,109.8 0 0 1 137.81,241.39 L137.75,237.79 A106.2,106.2 0 0 0 139.62,237.74 Z" fill="#999999"/><path d="M134.95,241.39 A109.8,109.8 0 0 1 133.25,241.37 L133.34,237.77 A106.2,106.2 0 0 0 134.99,237.80 Z" fill="#111111"/><path d="M132.71,241.35 A109.8,109.8 0 0 1 130.23,241.25 L130.42,237.65 A106.2,106.2 0 0 0 132.82,237.75 Z" fill="#999999"/><path d="M129.13,241.19 A109.8,109.8 0 0 1 126.60,241.00 L126.90,237.41 A106.2,106.2 0 0 0 129.36,237.59 Z" fill="#111111"/><path d="M133.16,241.36 A109.8,109.8 0 0 1 131.73,241.32 L131.87,237.72 A106.2,106.2 0 0 0 133.26,237.76 Z" fill="#e8000b"/><path d="M142.49,241.21 A109.8,109.8 0 0 1 113.70,239.11 L114.43,235.59 A106.2,106.2 0 0 0 142.28,237.61 Z" fill="none" stroke="#333" stroke-width="0.5"/><line x1="142.54" y1="242.11" x2="142.65" y2="243.85" stroke="#a8a8a8" stroke-width="1.3"/><line x1="140.48" y1="242.21" x2="140.60" y2="245.21" stroke="#a8a8a8" stroke-width="1.3"/><line x1="138.41" y1="242.27" x2="138.48" y2="245.27" stroke="#a8a8a8" stroke-width="1.3"/><line x1="136.34" y1="242.30" x2="136.35" y2="245.30" stroke="#a8a8a8" stroke-width="1.3"/><line x1="134.28" y1="242.29" x2="134.23" y2="245.29" stroke="#a8a8a8" stroke-width="1.3"/><line x1="132.21" y1="242.24" x2="132.11" y2="245.23" stroke="#a8a8a8" stroke-width="1.3"/><line x1="130.15" y1="242.15" x2="129.99" y2="245.14" stroke="#a8a8a8" stroke-width="1.3"/><line x1="128.08" y1="242.02" x2="127.87" y2="245.01" stroke="#a8a8a8" stroke-width="1.3"/><line x1="126.02" y1="241.85" x2="125.75" y2="244.84" stroke="#a8a8a8" stroke-width="1.3"/><line x1="123.97" y1="241.64" x2="123.64" y2="244.63" stroke="#a8a8a8" stroke-width="1.3"/><line x1="121.91" y1="241.40" x2="121.37" y2="245.62" stroke="#a8a8a8" stroke-width="1.3"/><line x1="119.87" y1="241.12" x2="119.25" y2="245.32" stroke="#a8a8a8" stroke-width="1.3"/><line x1="117.82" y1="240.80" x2="117.13" y2="244.99" stroke="#a8a8a8" stroke-width="1.3"/><line x1="115.79" y1="240.44" x2="115.01" y2="244.62" stroke="#a8a8a8" stroke-width="1.3"/><line x1="113.76" y1="240.04" x2="112.91" y2="244.21" stroke="#a8a8a8" stroke-width="1.3"/><text x="0" y="2.0" font-size="5.9" text-anchor="middle" fill="#111" stroke="#111" stroke-width="0.15" transform="translate(127.36 250.29) rotate(364.16) scale(0.74 1)">CHR9</text><path d="M115.51,218.62 A89.4,89.4 0 0 1 94.38,210.72" fill="none" stroke="#ffaec6" stroke-width="1.3"/><path d="M115.32,219.45 A90.25,90.25 0 0 1 93.99,211.47" fill="none" stroke="#d88a84" stroke-width="0.6"/><path d="M115.12,220.28 A91.1,91.1 0 0 1 93.59,212.23" fill="none" stroke="#80ec98" stroke-width="1.4"/><path d="M114.84,221.49 A92.35,92.35 0 0 1 93.01,213.33" fill="none" stroke="#a6d4fa" stroke-width="1.2"/><path d="M113.31,227.97 A99.0,99.0 0 0 1 89.91,219.22 L92.73,213.86 A92.95,92.95 0 0 0 114.70,222.08 Z" fill="#eeeeee"/><rect x="98.82" y="218.91" width="0.8" height="0.8" fill="#bbbbbb"/><rect x="107.25" y="223.71" width="0.8" height="0.8" fill="#bbbbbb"/><rect x="105.41" y="223.51" width="0.8" height="0.8" fill="#aaaaaa"/><rect x="97.45" y="218.67" width="0.8" height="0.8" fill="#d0d0d0"/><rect x="97.13" y="221.02" width="0.8" height="0.8" fill="#aaaaaa"/><rect x="106.15" y="224.41" width="0.8" height="0.8" fill="#cccccc"/><rect x="111.52" y="224.42" width="0.8" height="0.8" fill="#cccccc"/><rect x="107.69" y="222.35" width="0.8" height="0.8" fill="#cccccc"/><rect x="91.60" y="217.77" width="0.8" height="0.8" fill="#aaaaaa"/><rect x="109.13" y="223.33" width="0.8" height="0.8" fill="#cccccc"/><rect x="104.27" y="223.51" width="0.8" height="0.8" fill="#d0d0d0"/><rect x="102.50" y="221.69" width="0.8" height="0.8" fill="#bbbbbb"/><rect x="93.99" y="217.75" width="0.8" height="0.8" fill="#cccccc"/><rect x="100.55" y="220.12" width="0.8" height="0.8" fill="#cccccc"/><rect x="104.29" y="222.53" width="0.8" height="0.8" fill="#cccccc"/><rect x="110.57" y="222.42" width="0.8" height="0.8" fill="#bbbbbb"/><rect x="99.58" y="219.18" width="0.8" height="0.8" fill="#cccccc"/><path d="M113.77,224.58 A95.6,95.6 0 0 1 91.79,216.36" fill="none" stroke="#c8c8c8" stroke-width="0.7" stroke-dasharray="0.6 0.9"/><line x1="96.59" y1="222.64" x2="95.95" y2="224.13" stroke="#6aaee0" stroke-width="0.6"/><line x1="109.90" y1="227.30" x2="108.83" y2="231.24" stroke="#6aaee0" stroke-width="0.6"/><line x1="112.23" y1="227.91" x2="111.80" y2="229.63" stroke="#6aaee0" stroke-width="0.6"/><path d="M110.84,238.48 A109.8,109.8 0 0 1 84.89,228.78 L86.56,225.59 A106.2,106.2 0 0 0 111.66,234.97 Z" fill="#ffffff"/><path d="M103.53,236.49 A109.8,109.8 0 0 1 101.55,235.86 L102.68,232.44 A106.2,106.2 0 0 0 104.59,233.05 Z" fill="#111111"/><path d="M100.98,235.67 A109.8,109.8 0 0 1 100.18,235.39 L101.36,231.99 A106.2,106.2 0 0 0 102.13,232.25 Z" fill="#cccccc"/><path d="M98.66,234.86 A109.8,109.8 0 0 1 96.63,234.10 L97.92,230.74 A106.2,106.2 0 0 0 99.88,231.47 Z" fill="#cccccc"/><path d="M95.50,233.66 A109.8,109.8 0 0 1 94.39,233.21 L95.75,229.88 A106.2,106.2 0 0 0 96.83,230.31 Z" fill="#000000"/><path d="M93.05,232.65 A109.8,109.8 0 0 1 91.28,231.88 L92.74,228.59 A106.2,106.2 0 0 0 94.46,229.34 Z" fill="#444444"/><path d="M90.44,231.50 A109.8,109.8 0 0 1 89.84,231.23 L91.36,227.96 A106.2,106.2 0 0 0 91.93,228.23 Z" fill="#444444"/><path d="M86.28,229.50 A109.8,109.8 0 0 1 84.89,228.78 L86.56,225.59 A106.2,106.2 0 0 0 87.91,226.29 Z" fill="#444444"/><path d="M103.58,236.50 A109.8,109.8 0 0 1 102.21,236.07 L103.32,232.65 A106.2,106.2 0 0 0 104.64,233.06 Z" fill="#e8000b"/><path d="M110.84,238.48 A109.8,109.8 0 0 1 84.89,228.78 L86.56,225.59 A106.2,106.2 0 0 0 111.66,234.97 Z" fill="none" stroke="#333" stroke-width="0.5"/><line x1="110.63" y1="239.35" x2="110.23" y2="241.06" stroke="#a8a8a8" stroke-width="1.3"/><line x1="108.62" y1="238.86" x2="107.88" y2="241.77" stroke="#a8a8a8" stroke-width="1.3"/><line x1="106.63" y1="238.33" x2="105.83" y2="241.22" stroke="#a8a8a8" stroke-width="1.3"/><line x1="104.64" y1="237.76" x2="103.79" y2="240.64" stroke="#a8a8a8" stroke-width="1.3"/><line x1="102.66" y1="237.16" x2="101.76" y2="240.02" stroke="#a8a8a8" stroke-width="1.3"/><line x1="100.70" y1="236.52" x2="99.74" y2="239.36" stroke="#a8a8a8" stroke-width="1.3"/><line x1="98.74" y1="235.84" x2="97.73" y2="238.67" stroke="#a8a8a8" stroke-width="1.3"/><line x1="96.80" y1="235.13" x2="95.74" y2="237.93" stroke="#a8a8a8" stroke-width="1.3"/><line x1="94.88" y1="234.38" x2="93.76" y2="237.16" stroke="#a8a8a8" stroke-width="1.3"/><line x1="92.97" y1="233.59" x2="91.80" y2="236.36" stroke="#a8a8a8" stroke-width="1.3"/><line x1="91.07" y1="232.77" x2="89.34" y2="236.66" stroke="#a8a8a8" stroke-width="1.3"/><line x1="89.19" y1="231.92" x2="87.39" y2="235.77" stroke="#a8a8a8" stroke-width="1.3"/><line x1="87.32" y1="231.02" x2="85.45" y2="234.84" stroke="#a8a8a8" stroke-width="1.3"/><line x1="85.48" y1="230.10" x2="83.54" y2="233.88" stroke="#a8a8a8" stroke-width="1.3"/><text x="0" y="2.0" font-size="5.9" text-anchor="middle" fill="#111" stroke="#111" stroke-width="0.15" transform="translate(94.33 243.07) rotate(380.50) scale(0.74 1)">CHR10</text><path d="M92.28,209.58 A89.4,89.4 0 0 1 74.22,196.22" fill="none" stroke="#ffaec6" stroke-width="1.3"/><path d="M91.87,210.32 A90.25,90.25 0 0 1 73.63,196.83" fill="none" stroke="#d88a84" stroke-width="0.6"/><path d="M91.45,211.07 A91.1,91.1 0 0 1 73.04,197.44" fill="none" stroke="#80ec98" stroke-width="1.4"/><path d="M90.84,212.16 A92.35,92.35 0 0 1 72.18,198.35" fill="none" stroke="#a6d4fa" stroke-width="1.2"/><path d="M87.59,217.96 A99.0,99.0 0 0 1 67.58,203.15 L71.76,198.78 A92.95,92.95 0 0 0 90.55,212.68 Z" fill="#eeeeee"/><rect x="88.03" y="214.52" width="0.8" height="0.8" fill="#d0d0d0"/><rect x="78.83" y="207.18" width="0.8" height="0.8" fill="#d0d0d0"/><rect x="74.36" y="205.62" width="0.8" height="0.8" fill="#cccccc"/><rect x="73.53" y="206.25" width="0.8" height="0.8" fill="#aaaaaa"/><rect x="85.89" y="211.58" width="0.8" height="0.8" fill="#cccccc"/><rect x="82.08" y="212.25" width="0.8" height="0.8" fill="#bbbbbb"/><rect x="88.46" y="215.08" width="0.8" height="0.8" fill="#d0d0d0"/><rect x="73.90" y="206.55" width="0.8" height="0.8" fill="#d0d0d0"/><rect x="75.58" y="208.48" width="0.8" height="0.8" fill="#aaaaaa"/><rect x="77.57" y="206.49" width="0.8" height="0.8" fill="#cccccc"/><rect x="70.81" y="201.10" width="0.8" height="0.8" fill="#cccccc"/><rect x="85.98" y="214.23" width="0.8" height="0.8" fill="#bbbbbb"/><rect x="77.53" y="210.10" width="0.8" height="0.8" fill="#bbbbbb"/><rect x="76.20" y="206.29" width="0.8" height="0.8" fill="#d0d0d0"/><rect x="69.42" y="202.96" width="0.8" height="0.8" fill="#bbbbbb"/><rect x="79.59" y="210.10" width="0.8" height="0.8" fill="#aaaaaa"/><rect x="84.68" y="211.90" width="0.8" height="0.8" fill="#cccccc"/><path d="M88.96,214.83 A95.6,95.6 0 0 1 70.17,200.93" fill="none" stroke="#c8c8c8" stroke-width="0.7" stroke-dasharray="0.6 0.9"/><line x1="79.45" y1="213.11" x2="76.58" y2="217.24" stroke="#6aaee0" stroke-width="0.6"/><line x1="82.48" y1="215.13" x2="80.68" y2="217.94" stroke="#6aaee0" stroke-width="0.6"/><line x1="76.37" y1="210.88" x2="73.65" y2="214.49" stroke="#6aaee0" stroke-width="0.6"/><path d="M82.31,227.38 A109.8,109.8 0 0 1 60.12,210.96 L62.61,208.36 A106.2,106.2 0 0 0 84.07,224.24 Z" fill="#ffffff"/><path d="M79.74,225.89 A109.8,109.8 0 0 1 78.64,225.23 L80.52,222.16 A106.2,106.2 0 0 0 81.59,222.80 Z" fill="#cccccc"/><path d="M77.83,224.73 A109.8,109.8 0 0 1 76.35,223.79 L78.31,220.76 A106.2,106.2 0 0 0 79.74,221.67 Z" fill="#777777"/><path d="M71.54,220.49 A109.8,109.8 0 0 1 70.73,219.89 L72.87,217.00 A106.2,106.2 0 0 0 73.65,217.57 Z" fill="#b4b4b4"/><path d="M60.84,211.64 A109.8,109.8 0 0 1 60.12,210.96 L62.61,208.36 A106.2,106.2 0 0 0 63.30,209.02 Z" fill="#111111"/><path d="M73.58,221.93 A109.8,109.8 0 0 1 72.41,221.11 L74.49,218.17 A106.2,106.2 0 0 0 75.63,218.97 Z" fill="#e8000b"/><path d="M82.31,227.38 A109.8,109.8 0 0 1 60.12,210.96 L62.61,208.36 A106.2,106.2 0 0 0 84.07,224.24 Z" fill="none" stroke="#333" stroke-width="0.5"/><line x1="81.87" y1="228.16" x2="81.01" y2="229.69" stroke="#a8a8a8" stroke-width="1.3"/><line x1="80.08" y1="227.14" x2="78.56" y2="229.72" stroke="#a8a8a8" stroke-width="1.3"/><line x1="78.30" y1="226.07" x2="76.74" y2="228.63" stroke="#a8a8a8" stroke-width="1.3"/><line x1="76.55" y1="224.98" x2="74.94" y2="227.51" stroke="#a8a8a8" stroke-width="1.3"/><line x1="74.81" y1="223.85" x2="73.16" y2="226.35" stroke="#a8a8a8" stroke-width="1.3"/><line x1="73.10" y1="222.70" x2="71.40" y2="225.16" stroke="#a8a8a8" stroke-width="1.3"/><line x1="71.41" y1="221.51" x2="69.66" y2="223.94" stroke="#a8a8a8" stroke-width="1.3"/><line x1="69.75" y1="220.28" x2="67.95" y2="222.69" stroke="#a8a8a8" stroke-width="1.3"/><line x1="68.10" y1="219.03" x2="66.26" y2="221.40" stroke="#a8a8a8" stroke-width="1.3"/><line x1="66.48" y1="217.75" x2="64.60" y2="220.08" stroke="#a8a8a8" stroke-width="1.3"/><line x1="64.88" y1="216.44" x2="62.15" y2="219.69" stroke="#a8a8a8" stroke-width="1.3"/><line x1="63.31" y1="215.09" x2="60.52" y2="218.30" stroke="#a8a8a8" stroke-width="1.3"/><line x1="61.77" y1="213.72" x2="58.92" y2="216.87" stroke="#a8a8a8" stroke-width="1.3"/><line x1="60.25" y1="212.32" x2="57.34" y2="215.42" stroke="#a8a8a8" stroke-width="1.3"/><text x="0" y="2.0" font-size="5.9" text-anchor="middle" fill="#111" stroke="#111" stroke-width="0.15" transform="translate(65.22 227.26) rotate(396.50) scale(0.74 1)">CHR11</text><path d="M72.51,194.54 A89.4,89.4 0 0 1 58.92,176.88" fill="none" stroke="#ffaec6" stroke-width="1.3"/><path d="M71.91,195.14 A90.25,90.25 0 0 1 58.18,177.32" fill="none" stroke="#d88a84" stroke-width="0.6"/><path d="M71.31,195.74 A91.1,91.1 0 0 1 57.45,177.75" fill="none" stroke="#80ec98" stroke-width="1.4"/><path d="M70.42,196.62 A92.35,92.35 0 0 1 56.37,178.38" fill="none" stroke="#a6d4fa" stroke-width="1.2"/><path d="M65.70,201.30 A99.0,99.0 0 0 1 50.64,181.75 L55.86,178.68 A92.95,92.95 0 0 0 69.99,197.04 Z" fill="#eeeeee"/><rect x="54.54" y="184.59" width="0.8" height="0.8" fill="#d0d0d0"/><rect x="63.81" y="193.24" width="0.8" height="0.8" fill="#bbbbbb"/><rect x="61.64" y="194.89" width="0.8" height="0.8" fill="#d0d0d0"/><rect x="66.93" y="198.14" width="0.8" height="0.8" fill="#d0d0d0"/><rect x="56.59" y="186.16" width="0.8" height="0.8" fill="#aaaaaa"/><rect x="60.86" y="189.84" width="0.8" height="0.8" fill="#d0d0d0"/><rect x="67.80" y="198.24" width="0.8" height="0.8" fill="#d0d0d0"/><rect x="56.23" y="186.19" width="0.8" height="0.8" fill="#d0d0d0"/><rect x="54.05" y="183.43" width="0.8" height="0.8" fill="#cccccc"/><rect x="56.37" y="186.72" width="0.8" height="0.8" fill="#d0d0d0"/><rect x="60.99" y="190.67" width="0.8" height="0.8" fill="#bbbbbb"/><rect x="54.69" y="181.64" width="0.8" height="0.8" fill="#d0d0d0"/><rect x="55.94" y="186.03" width="0.8" height="0.8" fill="#aaaaaa"/><rect x="54.56" y="183.01" width="0.8" height="0.8" fill="#bbbbbb"/><rect x="57.84" y="187.39" width="0.8" height="0.8" fill="#cccccc"/><rect x="54.44" y="181.81" width="0.8" height="0.8" fill="#bbbbbb"/><rect x="61.03" y="191.99" width="0.8" height="0.8" fill="#bbbbbb"/><path d="M67.88,198.67 A95.6,95.6 0 0 1 53.74,180.31" fill="none" stroke="#c8c8c8" stroke-width="0.7" stroke-dasharray="0.6 0.9"/><line x1="64.89" y1="200.77" x2="62.26" y2="203.33" stroke="#6aaee0" stroke-width="0.6"/><line x1="62.80" y1="198.55" x2="59.39" y2="201.68" stroke="#6aaee0" stroke-width="0.6"/><line x1="51.22" y1="183.11" x2="48.17" y2="184.97" stroke="#6aaee0" stroke-width="0.6"/><path d="M58.03,208.91 A109.8,109.8 0 0 1 41.33,187.22 L44.43,185.39 A106.2,106.2 0 0 0 60.58,206.37 Z" fill="#ffffff"/><path d="M52.33,202.70 A109.8,109.8 0 0 1 50.69,200.73 L53.49,198.46 A106.2,106.2 0 0 0 55.07,200.37 Z" fill="#b4b4b4"/><path d="M46.97,195.86 A109.8,109.8 0 0 1 46.15,194.72 L49.10,192.65 A106.2,106.2 0 0 0 49.88,193.75 Z" fill="#000000"/><path d="M44.35,192.07 A109.8,109.8 0 0 1 43.72,191.10 L46.75,189.15 A106.2,106.2 0 0 0 47.36,190.09 Z" fill="#b4b4b4"/><path d="M53.51,204.06 A109.8,109.8 0 0 1 52.57,202.98 L55.30,200.64 A106.2,106.2 0 0 0 56.21,201.69 Z" fill="#e8000b"/><path d="M58.03,208.91 A109.8,109.8 0 0 1 41.33,187.22 L44.43,185.39 A106.2,106.2 0 0 0 60.58,206.37 Z" fill="none" stroke="#333" stroke-width="0.5"/><line x1="57.39" y1="209.54" x2="56.14" y2="210.77" stroke="#a8a8a8" stroke-width="1.3"/><line x1="55.95" y1="208.06" x2="53.78" y2="210.13" stroke="#a8a8a8" stroke-width="1.3"/><line x1="54.53" y1="206.55" x2="52.32" y2="208.58" stroke="#a8a8a8" stroke-width="1.3"/><line x1="53.15" y1="205.02" x2="50.90" y2="207.00" stroke="#a8a8a8" stroke-width="1.3"/><line x1="51.79" y1="203.46" x2="49.51" y2="205.40" stroke="#a8a8a8" stroke-width="1.3"/><line x1="50.46" y1="201.87" x2="48.15" y2="203.78" stroke="#a8a8a8" stroke-width="1.3"/><line x1="49.17" y1="200.26" x2="46.81" y2="202.12" stroke="#a8a8a8" stroke-width="1.3"/><line x1="47.90" y1="198.63" x2="45.51" y2="200.44" stroke="#a8a8a8" stroke-width="1.3"/><line x1="46.66" y1="196.97" x2="44.24" y2="198.74" stroke="#a8a8a8" stroke-width="1.3"/><line x1="45.46" y1="195.29" x2="43.00" y2="197.02" stroke="#a8a8a8" stroke-width="1.3"/><line x1="44.29" y1="193.59" x2="40.76" y2="195.97" stroke="#a8a8a8" stroke-width="1.3"/><line x1="43.14" y1="191.87" x2="39.58" y2="194.18" stroke="#a8a8a8" stroke-width="1.3"/><line x1="42.03" y1="190.12" x2="38.43" y2="192.37" stroke="#a8a8a8" stroke-width="1.3"/><line x1="40.96" y1="188.36" x2="37.31" y2="190.54" stroke="#a8a8a8" stroke-width="1.3"/><text x="0" y="2.0" font-size="5.9" text-anchor="middle" fill="#111" stroke="#111" stroke-width="0.15" transform="translate(41.71 204.20) rotate(412.41) scale(0.74 1)">CHR12</text><path d="M57.74,174.81 A89.4,89.4 0 0 1 50.32,157.11" fill="none" stroke="#ffaec6" stroke-width="1.3"/><path d="M56.99,175.22 A90.25,90.25 0 0 1 49.50,157.35" fill="none" stroke="#d88a84" stroke-width="0.6"/><path d="M56.25,175.63 A91.1,91.1 0 0 1 48.69,157.59" fill="none" stroke="#80ec98" stroke-width="1.4"/><path d="M55.15,176.24 A92.35,92.35 0 0 1 47.49,157.95" fill="none" stroke="#a6d4fa" stroke-width="1.2"/><path d="M49.33,179.45 A99.0,99.0 0 0 1 41.12,159.85 L46.91,158.12 A92.95,92.95 0 0 0 54.63,176.53 Z" fill="#eeeeee"/><rect x="43.71" y="159.40" width="0.8" height="0.8" fill="#cccccc"/><rect x="49.22" y="175.80" width="0.8" height="0.8" fill="#cccccc"/><rect x="46.88" y="169.08" width="0.8" height="0.8" fill="#cccccc"/><rect x="45.69" y="161.92" width="0.8" height="0.8" fill="#d0d0d0"/><rect x="47.75" y="168.73" width="0.8" height="0.8" fill="#cccccc"/><rect x="44.86" y="162.96" width="0.8" height="0.8" fill="#cccccc"/><rect x="49.20" y="172.61" width="0.8" height="0.8" fill="#aaaaaa"/><rect x="42.85" y="159.18" width="0.8" height="0.8" fill="#d0d0d0"/><rect x="50.63" y="178.05" width="0.8" height="0.8" fill="#aaaaaa"/><rect x="47.52" y="171.33" width="0.8" height="0.8" fill="#aaaaaa"/><rect x="47.23" y="168.70" width="0.8" height="0.8" fill="#bbbbbb"/><rect x="46.06" y="165.17" width="0.8" height="0.8" fill="#aaaaaa"/><rect x="45.73" y="161.05" width="0.8" height="0.8" fill="#aaaaaa"/><rect x="45.91" y="162.50" width="0.8" height="0.8" fill="#aaaaaa"/><path d="M52.15,177.51 A95.6,95.6 0 0 1 44.47,159.20" fill="none" stroke="#c8c8c8" stroke-width="0.7" stroke-dasharray="0.6 0.9"/><line x1="43.45" y1="167.31" x2="42.00" y2="167.87" stroke="#6aaee0" stroke-width="0.6"/><line x1="49.04" y1="179.33" x2="44.39" y2="181.89" stroke="#6aaee0" stroke-width="0.6"/><line x1="43.28" y1="166.86" x2="40.94" y2="167.75" stroke="#6aaee0" stroke-width="0.6"/><path d="M39.88,184.67 A109.8,109.8 0 0 1 30.76,162.93 L34.22,161.90 A106.2,106.2 0 0 0 43.03,182.93 Z" fill="#ffffff"/><path d="M39.88,184.67 A109.8,109.8 0 0 1 39.48,183.95 L42.65,182.23 A106.2,106.2 0 0 0 43.03,182.93 Z" fill="#111111"/><path d="M34.54,173.58 A109.8,109.8 0 0 1 34.08,172.44 L37.42,171.11 A106.2,106.2 0 0 0 37.87,172.20 Z" fill="#111111"/><path d="M33.69,171.45 A109.8,109.8 0 0 1 32.93,169.45 L36.31,168.21 A106.2,106.2 0 0 0 37.04,170.14 Z" fill="#000000"/><path d="M32.56,168.41 A109.8,109.8 0 0 1 32.17,167.32 L35.58,166.15 A106.2,106.2 0 0 0 35.95,167.21 Z" fill="#111111"/><path d="M31.86,166.39 A109.8,109.8 0 0 1 31.31,164.72 L34.75,163.63 A106.2,106.2 0 0 0 35.27,165.25 Z" fill="#111111"/><path d="M30.92,163.46 A109.8,109.8 0 0 1 30.76,162.93 L34.22,161.90 A106.2,106.2 0 0 0 34.37,162.42 Z" fill="#999999"/><path d="M38.49,182.07 A109.8,109.8 0 0 1 37.83,180.79 L41.05,179.18 A106.2,106.2 0 0 0 41.68,180.41 Z" fill="#e8000b"/><path d="M39.78,184.49 A109.8,109.8 0 0 1 38.44,181.98 L41.64,180.32 A106.2,106.2 0 0 0 42.93,182.76 Z" fill="#4a7ab8"/><path d="M39.88,184.67 A109.8,109.8 0 0 1 30.76,162.93 L34.22,161.90 A106.2,106.2 0 0 0 43.03,182.93 Z" fill="none" stroke="#333" stroke-width="0.5"/><line x1="39.09" y1="185.11" x2="37.56" y2="185.95" stroke="#a8a8a8" stroke-width="1.3"/><line x1="38.11" y1="183.29" x2="35.45" y2="184.69" stroke="#a8a8a8" stroke-width="1.3"/><line x1="37.16" y1="181.45" x2="34.48" y2="182.80" stroke="#a8a8a8" stroke-width="1.3"/><line x1="36.25" y1="179.60" x2="33.54" y2="180.90" stroke="#a8a8a8" stroke-width="1.3"/><line x1="35.37" y1="177.73" x2="32.64" y2="178.98" stroke="#a8a8a8" stroke-width="1.3"/><line x1="34.52" y1="175.84" x2="31.77" y2="177.04" stroke="#a8a8a8" stroke-width="1.3"/><line x1="33.72" y1="173.94" x2="30.94" y2="175.08" stroke="#a8a8a8" stroke-width="1.3"/><line x1="32.94" y1="172.02" x2="30.15" y2="173.11" stroke="#a8a8a8" stroke-width="1.3"/><line x1="32.21" y1="170.09" x2="29.39" y2="171.13" stroke="#a8a8a8" stroke-width="1.3"/><line x1="31.51" y1="168.14" x2="28.67" y2="169.13" stroke="#a8a8a8" stroke-width="1.3"/><line x1="30.84" y1="166.19" x2="26.80" y2="167.51" stroke="#a8a8a8" stroke-width="1.3"/><line x1="30.21" y1="164.22" x2="26.15" y2="165.47" stroke="#a8a8a8" stroke-width="1.3"/><text x="0" y="2.0" font-size="5.9" text-anchor="middle" fill="#111" stroke="#111" stroke-width="0.15" transform="translate(26.25 177.60) rotate(427.26) scale(0.74 1)">CHR13</text><path d="M49.67,154.81 A89.4,89.4 0 0 1 46.77,137.17" fill="none" stroke="#ffaec6" stroke-width="1.3"/><path d="M48.85,155.03 A90.25,90.25 0 0 1 45.93,137.22" fill="none" stroke="#d88a84" stroke-width="0.6"/><path d="M48.02,155.25 A91.1,91.1 0 0 1 45.08,137.27" fill="none" stroke="#80ec98" stroke-width="1.4"/><path d="M46.82,155.58 A92.35,92.35 0 0 1 43.83,137.35" fill="none" stroke="#a6d4fa" stroke-width="1.2"/><path d="M40.40,157.31 A99.0,99.0 0 0 1 37.19,137.76 L43.23,137.39 A92.95,92.95 0 0 0 46.24,155.73 Z" fill="#eeeeee"/><rect x="41.47" y="156.38" width="0.8" height="0.8" fill="#d0d0d0"/><rect x="40.09" y="143.03" width="0.8" height="0.8" fill="#aaaaaa"/><rect x="40.21" y="140.22" width="0.8" height="0.8" fill="#d0d0d0"/><rect x="38.92" y="137.23" width="0.8" height="0.8" fill="#cccccc"/><rect x="39.75" y="144.22" width="0.8" height="0.8" fill="#bbbbbb"/><rect x="44.09" y="155.40" width="0.8" height="0.8" fill="#aaaaaa"/><rect x="41.25" y="140.73" width="0.8" height="0.8" fill="#d0d0d0"/><rect x="39.29" y="147.29" width="0.8" height="0.8" fill="#bbbbbb"/><rect x="41.96" y="152.13" width="0.8" height="0.8" fill="#cccccc"/><rect x="39.93" y="150.08" width="0.8" height="0.8" fill="#aaaaaa"/><rect x="40.20" y="149.97" width="0.8" height="0.8" fill="#cccccc"/><rect x="41.92" y="150.75" width="0.8" height="0.8" fill="#aaaaaa"/><rect x="39.32" y="145.91" width="0.8" height="0.8" fill="#aaaaaa"/><path d="M43.59,156.10 A95.6,95.6 0 0 1 40.61,137.89" fill="none" stroke="#c8c8c8" stroke-width="0.7" stroke-dasharray="0.6 0.9"/><line x1="38.61" y1="150.48" x2="35.20" y2="151.14" stroke="#6aaee0" stroke-width="0.6"/><line x1="38.70" y1="150.90" x2="33.36" y2="151.96" stroke="#6aaee0" stroke-width="0.6"/><path d="M29.97,160.11 A109.8,109.8 0 0 1 26.41,138.44 L30.01,138.21 A106.2,106.2 0 0 0 33.44,159.17 Z" fill="#ffffff"/><path d="M29.97,160.11 A109.8,109.8 0 0 1 29.37,157.78 L32.86,156.92 A106.2,106.2 0 0 0 33.44,159.17 Z" fill="#111111"/><path d="M29.08,156.57 A109.8,109.8 0 0 1 28.59,154.38 L32.11,153.64 A106.2,106.2 0 0 0 32.58,155.75 Z" fill="#444444"/><path d="M28.07,151.79 A109.8,109.8 0 0 1 27.62,149.17 L31.17,148.60 A106.2,106.2 0 0 0 31.61,151.13 Z" fill="#999999"/><path d="M27.37,147.61 A109.8,109.8 0 0 1 27.13,145.90 L30.70,145.43 A106.2,106.2 0 0 0 30.94,147.09 Z" fill="#444444"/><path d="M26.87,143.75 A109.8,109.8 0 0 1 26.65,141.58 L30.24,141.25 A106.2,106.2 0 0 0 30.45,143.35 Z" fill="#999999"/><path d="M29.25,157.31 A109.8,109.8 0 0 1 28.93,155.91 L32.44,155.11 A106.2,106.2 0 0 0 32.75,156.47 Z" fill="#e8000b"/><path d="M29.91,159.91 A109.8,109.8 0 0 1 29.23,157.21 L32.73,156.37 A106.2,106.2 0 0 0 33.39,158.98 Z" fill="#4a7ab8"/><path d="M29.97,160.11 A109.8,109.8 0 0 1 26.41,138.44 L30.01,138.21 A106.2,106.2 0 0 0 33.44,159.17 Z" fill="none" stroke="#333" stroke-width="0.5"/><line x1="29.10" y1="160.34" x2="27.41" y2="160.80" stroke="#a8a8a8" stroke-width="1.3"/><line x1="28.58" y1="158.34" x2="25.67" y2="159.07" stroke="#a8a8a8" stroke-width="1.3"/><line x1="28.10" y1="156.33" x2="25.17" y2="157.00" stroke="#a8a8a8" stroke-width="1.3"/><line x1="27.66" y1="154.31" x2="24.72" y2="154.93" stroke="#a8a8a8" stroke-width="1.3"/><line x1="27.25" y1="152.29" x2="24.30" y2="152.85" stroke="#a8a8a8" stroke-width="1.3"/><line x1="26.88" y1="150.25" x2="23.93" y2="150.76" stroke="#a8a8a8" stroke-width="1.3"/><line x1="26.55" y1="148.21" x2="23.59" y2="148.66" stroke="#a8a8a8" stroke-width="1.3"/><line x1="26.26" y1="146.17" x2="23.29" y2="146.56" stroke="#a8a8a8" stroke-width="1.3"/><line x1="26.01" y1="144.11" x2="23.03" y2="144.45" stroke="#a8a8a8" stroke-width="1.3"/><line x1="25.80" y1="142.06" x2="22.81" y2="142.34" stroke="#a8a8a8" stroke-width="1.3"/><line x1="25.62" y1="140.00" x2="21.38" y2="140.32" stroke="#a8a8a8" stroke-width="1.3"/><text x="0" y="2.0" font-size="5.9" text-anchor="middle" fill="#111" stroke="#111" stroke-width="0.15" transform="translate(18.57 150.85) rotate(440.69) scale(0.74 1)">CHR14</text><path d="M46.66,134.78 A89.4,89.4 0 0 1 47.68,117.73" fill="none" stroke="#ffaec6" stroke-width="1.3"/><path d="M45.81,134.81 A90.25,90.25 0 0 1 46.84,117.60" fill="none" stroke="#d88a84" stroke-width="0.6"/><path d="M44.96,134.84 A91.1,91.1 0 0 1 46.00,117.47" fill="none" stroke="#80ec98" stroke-width="1.4"/><path d="M43.71,134.89 A92.35,92.35 0 0 1 44.77,117.27" fill="none" stroke="#a6d4fa" stroke-width="1.2"/><path d="M37.06,135.12 A99.0,99.0 0 0 1 38.20,116.24 L44.18,117.18 A92.95,92.95 0 0 0 43.11,134.91 Z" fill="#eeeeee"/><rect x="39.47" y="121.78" width="0.8" height="0.8" fill="#bbbbbb"/><rect x="38.77" y="130.71" width="0.8" height="0.8" fill="#d0d0d0"/><rect x="40.83" y="123.21" width="0.8" height="0.8" fill="#cccccc"/><rect x="40.44" y="118.69" width="0.8" height="0.8" fill="#bbbbbb"/><rect x="39.74" y="117.76" width="0.8" height="0.8" fill="#aaaaaa"/><rect x="41.43" y="118.77" width="0.8" height="0.8" fill="#aaaaaa"/><rect x="40.44" y="124.34" width="0.8" height="0.8" fill="#aaaaaa"/><rect x="40.98" y="131.22" width="0.8" height="0.8" fill="#bbbbbb"/><rect x="38.96" y="126.67" width="0.8" height="0.8" fill="#bbbbbb"/><rect x="39.44" y="125.46" width="0.8" height="0.8" fill="#bbbbbb"/><rect x="40.23" y="120.43" width="0.8" height="0.8" fill="#d0d0d0"/><rect x="41.17" y="126.49" width="0.8" height="0.8" fill="#d0d0d0"/><rect x="37.92" y="123.56" width="0.8" height="0.8" fill="#cccccc"/><path d="M40.45,134.67 A95.6,95.6 0 0 1 41.51,117.10" fill="none" stroke="#c8c8c8" stroke-width="0.7" stroke-dasharray="0.6 0.9"/><line x1="36.95" y1="126.11" x2="33.81" y2="125.93" stroke="#6aaee0" stroke-width="0.6"/><line x1="36.81" y1="133.19" x2="32.74" y2="133.26" stroke="#6aaee0" stroke-width="0.6"/><path d="M26.27,135.51 A109.8,109.8 0 0 1 27.53,114.56 L31.09,115.12 A106.2,106.2 0 0 0 29.87,135.38 Z" fill="#ffffff"/><path d="M26.27,135.51 A109.8,109.8 0 0 1 26.24,134.46 L29.84,134.37 A106.2,106.2 0 0 0 29.87,135.38 Z" fill="#000000"/><path d="M26.20,131.18 A109.8,109.8 0 0 1 26.24,128.81 L29.83,128.90 A106.2,106.2 0 0 0 29.80,131.19 Z" fill="#000000"/><path d="M26.30,127.01 A109.8,109.8 0 0 1 26.41,124.89 L30.00,125.11 A106.2,106.2 0 0 0 29.89,127.16 Z" fill="#000000"/><path d="M26.67,121.41 A109.8,109.8 0 0 1 26.90,119.25 L30.47,119.65 A106.2,106.2 0 0 0 30.26,121.74 Z" fill="#999999"/><path d="M26.20,132.33 A109.8,109.8 0 0 1 26.20,130.90 L29.80,130.92 A106.2,106.2 0 0 0 29.80,132.31 Z" fill="#e8000b"/><path d="M26.26,135.30 A109.8,109.8 0 0 1 26.20,132.23 L29.80,132.21 A106.2,106.2 0 0 0 29.86,135.18 Z" fill="#4a7ab8"/><path d="M26.27,135.51 A109.8,109.8 0 0 1 27.53,114.56 L31.09,115.12 A106.2,106.2 0 0 0 29.87,135.38 Z" fill="none" stroke="#333" stroke-width="0.5"/><line x1="25.37" y1="135.54" x2="23.62" y2="135.60" stroke="#a8a8a8" stroke-width="1.3"/><line x1="25.32" y1="133.47" x2="22.32" y2="133.53" stroke="#a8a8a8" stroke-width="1.3"/><line x1="25.30" y1="131.41" x2="22.30" y2="131.40" stroke="#a8a8a8" stroke-width="1.3"/><line x1="25.32" y1="129.34" x2="22.32" y2="129.28" stroke="#a8a8a8" stroke-width="1.3"/><line x1="25.38" y1="127.27" x2="22.39" y2="127.16" stroke="#a8a8a8" stroke-width="1.3"/><line x1="25.48" y1="125.21" x2="22.49" y2="125.04" stroke="#a8a8a8" stroke-width="1.3"/><line x1="25.62" y1="123.15" x2="22.63" y2="122.92" stroke="#a8a8a8" stroke-width="1.3"/><line x1="25.80" y1="121.09" x2="22.81" y2="120.80" stroke="#a8a8a8" stroke-width="1.3"/><line x1="26.02" y1="119.03" x2="23.04" y2="118.69" stroke="#a8a8a8" stroke-width="1.3"/><line x1="26.27" y1="116.98" x2="23.30" y2="116.59" stroke="#a8a8a8" stroke-width="1.3"/><line x1="26.56" y1="114.94" x2="22.36" y2="114.30" stroke="#a8a8a8" stroke-width="1.3"/><text x="0" y="2.0" font-size="5.9" text-anchor="middle" fill="#111" stroke="#111" stroke-width="0.15" transform="translate(17.21 124.45) rotate(273.44) scale(0.74 1)">CHR15</text><path d="M48.08,115.38 A89.4,89.4 0 0 1 52.06,100.85" fill="none" stroke="#ffaec6" stroke-width="1.3"/><path d="M47.25,115.22 A90.25,90.25 0 0 1 51.26,100.55" fill="none" stroke="#d88a84" stroke-width="0.6"/><path d="M46.41,115.07 A91.1,91.1 0 0 1 50.46,100.26" fill="none" stroke="#80ec98" stroke-width="1.4"/><path d="M45.18,114.84 A92.35,92.35 0 0 1 49.29,99.83" fill="none" stroke="#a6d4fa" stroke-width="1.2"/><path d="M38.64,113.63 A99.0,99.0 0 0 1 43.04,97.54 L48.72,99.62 A92.95,92.95 0 0 0 44.59,114.73 Z" fill="#eeeeee"/><rect x="40.47" y="113.40" width="0.8" height="0.8" fill="#bbbbbb"/><rect x="42.93" y="107.73" width="0.8" height="0.8" fill="#cccccc"/><rect x="43.89" y="98.34" width="0.8" height="0.8" fill="#bbbbbb"/><rect x="40.49" y="108.34" width="0.8" height="0.8" fill="#d0d0d0"/><rect x="43.76" y="106.60" width="0.8" height="0.8" fill="#bbbbbb"/><rect x="41.70" y="107.85" width="0.8" height="0.8" fill="#d0d0d0"/><rect x="41.72" y="105.93" width="0.8" height="0.8" fill="#d0d0d0"/><rect x="43.98" y="98.60" width="0.8" height="0.8" fill="#aaaaaa"/><rect x="43.42" y="109.44" width="0.8" height="0.8" fill="#aaaaaa"/><rect x="43.77" y="99.83" width="0.8" height="0.8" fill="#bbbbbb"/><rect x="43.98" y="100.56" width="0.8" height="0.8" fill="#aaaaaa"/><path d="M42.05,113.92 A95.6,95.6 0 0 1 46.12,99.03" fill="none" stroke="#c8c8c8" stroke-width="0.7" stroke-dasharray="0.6 0.9"/><line x1="40.69" y1="104.08" x2="35.50" y2="102.58" stroke="#6aaee0" stroke-width="0.6"/><line x1="39.28" y1="109.56" x2="36.31" y2="108.89" stroke="#6aaee0" stroke-width="0.6"/><path d="M28.02,111.67 A109.8,109.8 0 0 1 32.90,93.83 L36.28,95.07 A106.2,106.2 0 0 0 31.56,112.33 Z" fill="#ffffff"/><path d="M28.89,107.42 A109.8,109.8 0 0 1 29.16,106.29 L32.66,107.12 A106.2,106.2 0 0 0 32.41,108.22 Z" fill="#cccccc"/><path d="M29.49,104.93 A109.8,109.8 0 0 1 30.05,102.78 L33.52,103.72 A106.2,106.2 0 0 0 32.98,105.80 Z" fill="#111111"/><path d="M32.50,94.94 A109.8,109.8 0 0 1 32.90,93.83 L36.28,95.07 A106.2,106.2 0 0 0 35.90,96.14 Z" fill="#000000"/><path d="M29.46,105.04 A109.8,109.8 0 0 1 29.82,103.65 L33.30,104.57 A106.2,106.2 0 0 0 32.95,105.91 Z" fill="#e8000b"/><path d="M28.02,111.67 A109.8,109.8 0 0 1 32.90,93.83 L36.28,95.07 A106.2,106.2 0 0 0 31.56,112.33 Z" fill="none" stroke="#333" stroke-width="0.5"/><line x1="27.14" y1="111.51" x2="25.42" y2="111.19" stroke="#a8a8a8" stroke-width="1.3"/><line x1="27.53" y1="109.48" x2="24.59" y2="108.88" stroke="#a8a8a8" stroke-width="1.3"/><line x1="27.96" y1="107.46" x2="25.04" y2="106.81" stroke="#a8a8a8" stroke-width="1.3"/><line x1="28.43" y1="105.45" x2="25.52" y2="104.74" stroke="#a8a8a8" stroke-width="1.3"/><line x1="28.94" y1="103.44" x2="26.04" y2="102.68" stroke="#a8a8a8" stroke-width="1.3"/><line x1="29.49" y1="101.45" x2="26.60" y2="100.63" stroke="#a8a8a8" stroke-width="1.3"/><line x1="30.07" y1="99.47" x2="27.20" y2="98.60" stroke="#a8a8a8" stroke-width="1.3"/><line x1="30.68" y1="97.49" x2="27.83" y2="96.57" stroke="#a8a8a8" stroke-width="1.3"/><line x1="31.34" y1="95.53" x2="28.50" y2="94.56" stroke="#a8a8a8" stroke-width="1.3"/><line x1="32.03" y1="93.59" x2="29.21" y2="92.56" stroke="#a8a8a8" stroke-width="1.3"/><text x="0" y="2.0" font-size="5.9" text-anchor="middle" fill="#111" stroke="#111" stroke-width="0.15" transform="translate(21.21 100.22) rotate(285.29) scale(0.74 1)">CHR16</text><path d="M52.91,98.61 A89.4,89.4 0 0 1 58.84,86.44" fill="none" stroke="#ffaec6" stroke-width="1.3"/><path d="M52.12,98.30 A90.25,90.25 0 0 1 58.11,86.01" fill="none" stroke="#d88a84" stroke-width="0.6"/><path d="M51.33,97.99 A91.1,91.1 0 0 1 57.38,85.58" fill="none" stroke="#80ec98" stroke-width="1.4"/><path d="M50.17,97.53 A92.35,92.35 0 0 1 56.30,84.95" fill="none" stroke="#a6d4fa" stroke-width="1.2"/><path d="M43.98,95.07 A99.0,99.0 0 0 1 50.56,81.59 L55.78,84.65 A92.95,92.95 0 0 0 49.61,97.30 Z" fill="#eeeeee"/><rect x="49.36" y="89.39" width="0.8" height="0.8" fill="#cccccc"/><rect x="49.32" y="92.17" width="0.8" height="0.8" fill="#d0d0d0"/><rect x="49.79" y="89.91" width="0.8" height="0.8" fill="#aaaaaa"/><rect x="51.18" y="88.66" width="0.8" height="0.8" fill="#d0d0d0"/><rect x="50.13" y="90.17" width="0.8" height="0.8" fill="#aaaaaa"/><rect x="51.72" y="85.93" width="0.8" height="0.8" fill="#aaaaaa"/><rect x="51.63" y="84.00" width="0.8" height="0.8" fill="#d0d0d0"/><rect x="50.06" y="89.39" width="0.8" height="0.8" fill="#cccccc"/><rect x="48.24" y="93.54" width="0.8" height="0.8" fill="#aaaaaa"/><rect x="48.02" y="90.73" width="0.8" height="0.8" fill="#d0d0d0"/><path d="M47.27,96.02 A95.6,95.6 0 0 1 53.32,83.60" fill="none" stroke="#c8c8c8" stroke-width="0.7" stroke-dasharray="0.6 0.9"/><line x1="48.76" y1="84.38" x2="44.43" y2="82.04" stroke="#6aaee0" stroke-width="0.6"/><line x1="45.23" y1="91.58" x2="40.48" y2="89.49" stroke="#6aaee0" stroke-width="0.6"/><path d="M33.95,91.09 A109.8,109.8 0 0 1 41.24,76.14 L44.34,77.96 A106.2,106.2 0 0 0 37.29,92.42 Z" fill="#ffffff"/><path d="M34.88,88.81 A109.8,109.8 0 0 1 35.50,87.37 L38.80,88.82 A106.2,106.2 0 0 0 38.20,90.21 Z" fill="#444444"/><path d="M38.69,80.74 A109.8,109.8 0 0 1 39.73,78.79 L42.89,80.52 A106.2,106.2 0 0 0 41.88,82.41 Z" fill="#777777"/><path d="M35.57,87.21 A109.8,109.8 0 0 1 36.16,85.90 L39.43,87.40 A106.2,106.2 0 0 0 38.86,88.67 Z" fill="#e8000b"/><path d="M33.95,91.09 A109.8,109.8 0 0 1 41.24,76.14 L44.34,77.96 A106.2,106.2 0 0 0 37.29,92.42 Z" fill="none" stroke="#333" stroke-width="0.5"/><line x1="33.11" y1="90.76" x2="31.48" y2="90.11" stroke="#a8a8a8" stroke-width="1.3"/><line x1="33.89" y1="88.84" x2="31.12" y2="87.68" stroke="#a8a8a8" stroke-width="1.3"/><line x1="34.71" y1="86.94" x2="31.96" y2="85.73" stroke="#a8a8a8" stroke-width="1.3"/><line x1="35.56" y1="85.06" x2="32.84" y2="83.80" stroke="#a8a8a8" stroke-width="1.3"/><line x1="36.45" y1="83.19" x2="33.75" y2="81.88" stroke="#a8a8a8" stroke-width="1.3"/><line x1="37.37" y1="81.34" x2="34.69" y2="79.98" stroke="#a8a8a8" stroke-width="1.3"/><line x1="38.32" y1="79.51" x2="35.67" y2="78.10" stroke="#a8a8a8" stroke-width="1.3"/><line x1="39.31" y1="77.69" x2="36.69" y2="76.23" stroke="#a8a8a8" stroke-width="1.3"/><line x1="40.33" y1="75.90" x2="37.74" y2="74.39" stroke="#a8a8a8" stroke-width="1.3"/><text x="0" y="2.0" font-size="5.9" text-anchor="middle" fill="#111" stroke="#111" stroke-width="0.15" transform="translate(29.04 79.44) rotate(296.00) scale(0.74 1)">CHR17</text><path d="M60.08,84.40 A89.4,89.4 0 0 1 67.74,73.87" fill="none" stroke="#ffaec6" stroke-width="1.3"/><path d="M59.35,83.95 A90.25,90.25 0 0 1 67.09,73.32" fill="none" stroke="#d88a84" stroke-width="0.6"/><path d="M58.63,83.50 A91.1,91.1 0 0 1 66.44,72.77" fill="none" stroke="#80ec98" stroke-width="1.4"/><path d="M57.57,82.84 A92.35,92.35 0 0 1 65.49,71.96" fill="none" stroke="#a6d4fa" stroke-width="1.2"/><path d="M51.92,79.33 A99.0,99.0 0 0 1 60.41,67.67 L65.03,71.58 A92.95,92.95 0 0 0 57.06,82.52 Z" fill="#eeeeee"/><rect x="55.03" y="80.49" width="0.8" height="0.8" fill="#cccccc"/><rect x="58.14" y="76.90" width="0.8" height="0.8" fill="#bbbbbb"/><rect x="57.21" y="73.14" width="0.8" height="0.8" fill="#d0d0d0"/><rect x="56.69" y="74.00" width="0.8" height="0.8" fill="#bbbbbb"/><rect x="60.50" y="70.22" width="0.8" height="0.8" fill="#bbbbbb"/><rect x="60.65" y="73.13" width="0.8" height="0.8" fill="#aaaaaa"/><rect x="57.92" y="73.54" width="0.8" height="0.8" fill="#d0d0d0"/><rect x="54.22" y="77.55" width="0.8" height="0.8" fill="#aaaaaa"/><rect x="60.48" y="68.31" width="0.8" height="0.8" fill="#cccccc"/><rect x="53.87" y="77.50" width="0.8" height="0.8" fill="#aaaaaa"/><path d="M54.99,80.84 A95.6,95.6 0 0 1 62.79,70.12" fill="none" stroke="#c8c8c8" stroke-width="0.7" stroke-dasharray="0.6 0.9"/><line x1="52.21" y1="78.50" x2="49.07" y2="76.51" stroke="#6aaee0" stroke-width="0.6"/><line x1="51.97" y1="78.88" x2="47.58" y2="76.13" stroke="#6aaee0" stroke-width="0.6"/><path d="M42.75,73.63 A109.8,109.8 0 0 1 52.16,60.69 L54.91,63.02 A106.2,106.2 0 0 0 45.81,75.53 Z" fill="#ffffff"/><path d="M44.10,71.51 A109.8,109.8 0 0 1 45.31,69.70 L48.28,71.73 A106.2,106.2 0 0 0 47.12,73.48 Z" fill="#000000"/><path d="M49.18,64.38 A109.8,109.8 0 0 1 49.69,63.72 L52.52,65.95 A106.2,106.2 0 0 0 52.03,66.58 Z" fill="#444444"/><path d="M50.23,63.04 A109.8,109.8 0 0 1 51.10,61.97 L53.89,64.25 A106.2,106.2 0 0 0 53.04,65.29 Z" fill="#777777"/><path d="M44.26,71.26 A109.8,109.8 0 0 1 45.06,70.07 L48.04,72.09 A106.2,106.2 0 0 0 47.27,73.24 Z" fill="#e8000b"/><path d="M42.75,73.63 A109.8,109.8 0 0 1 52.16,60.69 L54.91,63.02 A106.2,106.2 0 0 0 45.81,75.53 Z" fill="none" stroke="#333" stroke-width="0.5"/><line x1="41.99" y1="73.15" x2="40.50" y2="72.23" stroke="#a8a8a8" stroke-width="1.3"/><line x1="43.09" y1="71.41" x2="40.58" y2="69.78" stroke="#a8a8a8" stroke-width="1.3"/><line x1="44.23" y1="69.68" x2="41.75" y2="68.01" stroke="#a8a8a8" stroke-width="1.3"/><line x1="45.41" y1="67.98" x2="42.95" y2="66.26" stroke="#a8a8a8" stroke-width="1.3"/><line x1="46.61" y1="66.30" x2="44.19" y2="64.53" stroke="#a8a8a8" stroke-width="1.3"/><line x1="47.84" y1="64.64" x2="45.46" y2="62.83" stroke="#a8a8a8" stroke-width="1.3"/><line x1="49.11" y1="63.01" x2="46.76" y2="61.15" stroke="#a8a8a8" stroke-width="1.3"/><line x1="50.41" y1="61.40" x2="48.09" y2="59.50" stroke="#a8a8a8" stroke-width="1.3"/><text x="0" y="2.0" font-size="5.9" text-anchor="middle" fill="#111" stroke="#111" stroke-width="0.15" transform="translate(39.78 61.58) rotate(306.05) scale(0.74 1)">CHR18</text><path d="M69.31,72.07 A89.4,89.4 0 0 1 76.27,65.08" fill="none" stroke="#ffaec6" stroke-width="1.3"/><path d="M68.67,71.50 A90.25,90.25 0 0 1 75.70,64.45" fill="none" stroke="#d88a84" stroke-width="0.6"/><path d="M68.04,70.93 A91.1,91.1 0 0 1 75.13,63.82" fill="none" stroke="#80ec98" stroke-width="1.4"/><path d="M67.11,70.10 A92.35,92.35 0 0 1 74.30,62.89" fill="none" stroke="#a6d4fa" stroke-width="1.2"/><path d="M62.14,65.67 A99.0,99.0 0 0 1 69.85,57.94 L73.90,62.44 A92.95,92.95 0 0 0 66.66,69.70 Z" fill="#eeeeee"/><rect x="69.83" y="62.40" width="0.8" height="0.8" fill="#bbbbbb"/><rect x="64.06" y="65.08" width="0.8" height="0.8" fill="#bbbbbb"/><rect x="69.91" y="59.11" width="0.8" height="0.8" fill="#cccccc"/><rect x="68.46" y="60.01" width="0.8" height="0.8" fill="#d0d0d0"/><rect x="69.75" y="60.39" width="0.8" height="0.8" fill="#d0d0d0"/><rect x="71.49" y="60.24" width="0.8" height="0.8" fill="#cccccc"/><rect x="66.95" y="63.09" width="0.8" height="0.8" fill="#cccccc"/><path d="M64.90,67.69 A95.6,95.6 0 0 1 71.88,60.69" fill="none" stroke="#c8c8c8" stroke-width="0.7" stroke-dasharray="0.6 0.9"/><line x1="64.46" y1="62.87" x2="61.26" y2="59.79" stroke="#6aaee0" stroke-width="0.6"/><path d="M54.09,58.48 A109.8,109.8 0 0 1 62.64,49.90 L65.04,52.58 A106.2,106.2 0 0 0 56.77,60.88 Z" fill="#ffffff"/><path d="M54.09,58.48 A109.8,109.8 0 0 1 54.75,57.75 L57.41,60.17 A106.2,106.2 0 0 0 56.77,60.88 Z" fill="#111111"/><path d="M55.38,57.06 A109.8,109.8 0 0 1 56.01,56.38 L58.63,58.85 A106.2,106.2 0 0 0 58.02,59.50 Z" fill="#111111"/><path d="M57.73,54.59 A109.8,109.8 0 0 1 58.41,53.91 L60.95,56.46 A106.2,106.2 0 0 0 60.30,57.11 Z" fill="#444444"/><path d="M59.09,53.23 A109.8,109.8 0 0 1 60.25,52.12 L62.73,54.72 A106.2,106.2 0 0 0 61.62,55.80 Z" fill="#999999"/><path d="M57.30,55.03 A109.8,109.8 0 0 1 58.31,54.01 L60.86,56.55 A106.2,106.2 0 0 0 59.88,57.54 Z" fill="#e8000b"/><path d="M54.09,58.48 A109.8,109.8 0 0 1 62.64,49.90 L65.04,52.58 A106.2,106.2 0 0 0 56.77,60.88 Z" fill="none" stroke="#333" stroke-width="0.5"/><line x1="53.42" y1="57.88" x2="52.11" y2="56.72" stroke="#a8a8a8" stroke-width="1.3"/><line x1="54.81" y1="56.35" x2="52.61" y2="54.31" stroke="#a8a8a8" stroke-width="1.3"/><line x1="56.23" y1="54.85" x2="54.06" y2="52.77" stroke="#a8a8a8" stroke-width="1.3"/><line x1="57.67" y1="53.37" x2="55.55" y2="51.25" stroke="#a8a8a8" stroke-width="1.3"/><line x1="59.15" y1="51.92" x2="57.06" y2="49.77" stroke="#a8a8a8" stroke-width="1.3"/><line x1="60.65" y1="50.50" x2="58.61" y2="48.31" stroke="#a8a8a8" stroke-width="1.3"/><text x="0" y="2.0" font-size="5.9" text-anchor="middle" fill="#111" stroke="#111" stroke-width="0.15" transform="translate(51.73 47.58) rotate(314.92) scale(0.74 1)">CHR19</text><path d="M78.07,63.51 A89.4,89.4 0 0 1 86.46,57.18" fill="none" stroke="#ffaec6" stroke-width="1.3"/><path d="M77.52,62.86 A90.25,90.25 0 0 1 85.99,56.48" fill="none" stroke="#d88a84" stroke-width="0.6"/><path d="M76.96,62.22 A91.1,91.1 0 0 1 85.52,55.77" fill="none" stroke="#80ec98" stroke-width="1.4"/><path d="M76.15,61.27 A92.35,92.35 0 0 1 84.82,54.73" fill="none" stroke="#a6d4fa" stroke-width="1.2"/><path d="M71.84,56.20 A99.0,99.0 0 0 1 81.14,49.19 L84.49,54.23 A92.95,92.95 0 0 0 75.77,60.81 Z" fill="#eeeeee"/><rect x="77.89" y="55.11" width="0.8" height="0.8" fill="#aaaaaa"/><rect x="79.02" y="51.31" width="0.8" height="0.8" fill="#d0d0d0"/><rect x="81.21" y="49.69" width="0.8" height="0.8" fill="#cccccc"/><rect x="74.54" y="57.75" width="0.8" height="0.8" fill="#cccccc"/><rect x="73.21" y="56.87" width="0.8" height="0.8" fill="#aaaaaa"/><rect x="74.17" y="56.47" width="0.8" height="0.8" fill="#d0d0d0"/><rect x="80.78" y="52.77" width="0.8" height="0.8" fill="#cccccc"/><rect x="76.51" y="53.94" width="0.8" height="0.8" fill="#aaaaaa"/><path d="M74.30,58.57 A95.6,95.6 0 0 1 82.74,52.21" fill="none" stroke="#c8c8c8" stroke-width="0.7" stroke-dasharray="0.6 0.9"/><line x1="73.38" y1="54.66" x2="71.34" y2="52.15" stroke="#6aaee0" stroke-width="0.6"/><path d="M64.85,47.97 A109.8,109.8 0 0 1 75.15,40.20 L77.15,43.20 A106.2,106.2 0 0 0 67.18,50.72 Z" fill="#ffffff"/><path d="M64.85,47.97 A109.8,109.8 0 0 1 66.76,46.39 L69.03,49.18 A106.2,106.2 0 0 0 67.18,50.72 Z" fill="#999999"/><path d="M74.68,40.52 A109.8,109.8 0 0 1 75.15,40.20 L77.15,43.20 A106.2,106.2 0 0 0 76.69,43.51 Z" fill="#b4b4b4"/><path d="M68.66,44.87 A109.8,109.8 0 0 1 69.80,44.00 L71.97,46.87 A106.2,106.2 0 0 0 70.87,47.71 Z" fill="#e8000b"/><path d="M64.85,47.97 A109.8,109.8 0 0 1 75.15,40.20 L77.15,43.20 A106.2,106.2 0 0 0 67.18,50.72 Z" fill="none" stroke="#333" stroke-width="0.5"/><line x1="64.26" y1="47.29" x2="63.13" y2="45.96" stroke="#a8a8a8" stroke-width="1.3"/><line x1="65.85" y1="45.96" x2="63.95" y2="43.64" stroke="#a8a8a8" stroke-width="1.3"/><line x1="67.46" y1="44.67" x2="65.60" y2="42.31" stroke="#a8a8a8" stroke-width="1.3"/><line x1="69.10" y1="43.41" x2="67.28" y2="41.02" stroke="#a8a8a8" stroke-width="1.3"/><line x1="70.75" y1="42.17" x2="68.99" y2="39.75" stroke="#a8a8a8" stroke-width="1.3"/><line x1="72.44" y1="40.97" x2="70.71" y2="38.51" stroke="#a8a8a8" stroke-width="1.3"/><line x1="74.14" y1="39.80" x2="72.46" y2="37.31" stroke="#a8a8a8" stroke-width="1.3"/><text x="0" y="2.0" font-size="5.9" text-anchor="middle" fill="#111" stroke="#111" stroke-width="0.15" transform="translate(64.35 36.59) rotate(322.98) scale(0.74 1)">CHR20</text><path d="M88.46,55.89 A89.4,89.4 0 0 1 95.44,51.93" fill="none" stroke="#ffaec6" stroke-width="1.3"/><path d="M88.01,55.17 A90.25,90.25 0 0 1 95.06,51.17" fill="none" stroke="#d88a84" stroke-width="0.6"/><path d="M87.56,54.45 A91.1,91.1 0 0 1 94.67,50.41" fill="none" stroke="#80ec98" stroke-width="1.4"/><path d="M86.89,53.39 A92.35,92.35 0 0 1 94.11,49.30" fill="none" stroke="#a6d4fa" stroke-width="1.2"/><path d="M83.36,47.76 A99.0,99.0 0 0 1 91.09,43.37 L93.83,48.76 A92.95,92.95 0 0 0 86.57,52.88 Z" fill="#eeeeee"/><rect x="90.36" y="45.92" width="0.8" height="0.8" fill="#cccccc"/><rect x="84.14" y="49.07" width="0.8" height="0.8" fill="#d0d0d0"/><rect x="90.04" y="44.77" width="0.8" height="0.8" fill="#aaaaaa"/><rect x="86.29" y="47.15" width="0.8" height="0.8" fill="#d0d0d0"/><rect x="85.25" y="49.54" width="0.8" height="0.8" fill="#d0d0d0"/><rect x="85.10" y="48.58" width="0.8" height="0.8" fill="#cccccc"/><path d="M85.45,50.46 A95.6,95.6 0 0 1 92.33,46.55" fill="none" stroke="#c8c8c8" stroke-width="0.7" stroke-dasharray="0.6 0.9"/><line x1="84.66" y1="46.72" x2="82.16" y2="42.59" stroke="#6aaee0" stroke-width="0.6"/><path d="M77.61,38.61 A109.8,109.8 0 0 1 86.19,33.75 L87.82,36.96 A106.2,106.2 0 0 0 79.53,41.66 Z" fill="#ffffff"/><path d="M77.61,38.61 A109.8,109.8 0 0 1 78.78,37.89 L80.65,40.96 A106.2,106.2 0 0 0 79.53,41.66 Z" fill="#444444"/><path d="M79.75,37.30 A109.8,109.8 0 0 1 81.80,36.11 L83.58,39.24 A106.2,106.2 0 0 0 81.59,40.40 Z" fill="#777777"/><path d="M83.28,35.28 A109.8,109.8 0 0 1 83.95,34.92 L85.66,38.09 A106.2,106.2 0 0 0 85.01,38.44 Z" fill="#111111"/><path d="M85.26,34.23 A109.8,109.8 0 0 1 86.19,33.75 L87.82,36.96 A106.2,106.2 0 0 0 86.92,37.42 Z" fill="#b4b4b4"/><path d="M79.31,37.57 A109.8,109.8 0 0 1 80.54,36.83 L82.36,39.94 A106.2,106.2 0 0 0 81.17,40.65 Z" fill="#e8000b"/><path d="M77.79,38.50 A109.8,109.8 0 0 1 79.40,37.51 L81.25,40.60 A106.2,106.2 0 0 0 79.70,41.55 Z" fill="#4a7ab8"/><path d="M77.61,38.61 A109.8,109.8 0 0 1 86.19,33.75 L87.82,36.96 A106.2,106.2 0 0 0 79.53,41.66 Z" fill="none" stroke="#333" stroke-width="0.5"/><line x1="77.14" y1="37.85" x2="76.21" y2="36.37" stroke="#a8a8a8" stroke-width="1.3"/><line x1="78.90" y1="36.77" x2="77.35" y2="34.19" stroke="#a8a8a8" stroke-width="1.3"/><line x1="80.68" y1="35.72" x2="79.18" y2="33.12" stroke="#a8a8a8" stroke-width="1.3"/><line x1="82.48" y1="34.70" x2="81.03" y2="32.07" stroke="#a8a8a8" stroke-width="1.3"/><line x1="84.30" y1="33.72" x2="82.89" y2="31.06" stroke="#a8a8a8" stroke-width="1.3"/><text x="0" y="2.0" font-size="5.9" text-anchor="middle" fill="#111" stroke="#111" stroke-width="0.15" transform="translate(77.31 28.08) rotate(330.45) scale(0.74 1)">CHR21</text><path d="M97.59,50.87 A89.4,89.4 0 0 1 105.48,47.57" fill="none" stroke="#ffaec6" stroke-width="1.3"/><path d="M97.22,50.11 A90.25,90.25 0 0 1 105.19,46.77" fill="none" stroke="#d88a84" stroke-width="0.6"/><path d="M96.86,49.34 A91.1,91.1 0 0 1 104.90,45.97" fill="none" stroke="#80ec98" stroke-width="1.4"/><path d="M96.32,48.21 A92.35,92.35 0 0 1 104.48,44.80" fill="none" stroke="#a6d4fa" stroke-width="1.2"/><path d="M93.46,42.21 A99.0,99.0 0 0 1 102.21,38.55 L104.27,44.23 A92.95,92.95 0 0 0 96.06,47.67 Z" fill="#eeeeee"/><rect x="98.57" y="40.85" width="0.8" height="0.8" fill="#aaaaaa"/><rect x="101.08" y="39.65" width="0.8" height="0.8" fill="#d0d0d0"/><rect x="98.64" y="44.13" width="0.8" height="0.8" fill="#cccccc"/><rect x="93.72" y="42.73" width="0.8" height="0.8" fill="#cccccc"/><rect x="99.90" y="43.07" width="0.8" height="0.8" fill="#aaaaaa"/><rect x="95.89" y="42.31" width="0.8" height="0.8" fill="#bbbbbb"/><path d="M95.22,45.13 A95.6,95.6 0 0 1 103.05,41.86" fill="none" stroke="#c8c8c8" stroke-width="0.7" stroke-dasharray="0.6 0.9"/><line x1="93.54" y1="41.95" x2="91.31" y2="37.24" stroke="#6aaee0" stroke-width="0.6"/><path d="M88.82,32.45 A109.8,109.8 0 0 1 98.52,28.40 L99.75,31.78 A106.2,106.2 0 0 0 90.37,35.70 Z" fill="#ffffff"/><path d="M88.82,32.45 A109.8,109.8 0 0 1 90.75,31.56 L92.24,34.84 A106.2,106.2 0 0 0 90.37,35.70 Z" fill="#cccccc"/><path d="M96.70,29.08 A109.8,109.8 0 0 1 97.36,28.82 L98.63,32.19 A106.2,106.2 0 0 0 97.99,32.44 Z" fill="#777777"/><path d="M98.44,28.43 A109.8,109.8 0 0 1 98.52,28.40 L99.75,31.78 A106.2,106.2 0 0 0 99.67,31.81 Z" fill="#000000"/><path d="M90.90,31.49 A109.8,109.8 0 0 1 92.22,30.91 L93.65,34.21 A106.2,106.2 0 0 0 92.38,34.77 Z" fill="#e8000b"/><path d="M89.01,32.37 A109.8,109.8 0 0 1 91.00,31.45 L92.47,34.73 A106.2,106.2 0 0 0 90.55,35.62 Z" fill="#4a7ab8"/><path d="M88.82,32.45 A109.8,109.8 0 0 1 98.52,28.40 L99.75,31.78 A106.2,106.2 0 0 0 90.37,35.70 Z" fill="none" stroke="#333" stroke-width="0.5"/><line x1="88.43" y1="31.64" x2="87.68" y2="30.06" stroke="#a8a8a8" stroke-width="1.3"/><line x1="90.31" y1="30.77" x2="89.07" y2="28.04" stroke="#a8a8a8" stroke-width="1.3"/><line x1="92.20" y1="29.93" x2="91.01" y2="27.18" stroke="#a8a8a8" stroke-width="1.3"/><line x1="94.10" y1="29.13" x2="92.97" y2="26.36" stroke="#a8a8a8" stroke-width="1.3"/><line x1="96.03" y1="28.37" x2="94.94" y2="25.57" stroke="#a8a8a8" stroke-width="1.3"/><line x1="97.96" y1="27.64" x2="96.93" y2="24.82" stroke="#a8a8a8" stroke-width="1.3"/><text x="0" y="2.0" font-size="5.9" text-anchor="middle" fill="#111" stroke="#111" stroke-width="0.15" transform="translate(90.07 21.82) rotate(337.30) scale(0.74 1)">CHR22</text><path d="M107.74,46.78 A89.4,89.4 0 0 1 133.17,42.24" fill="none" stroke="#ffaec6" stroke-width="1.3"/><path d="M107.47,45.98 A90.25,90.25 0 0 1 133.14,41.40" fill="none" stroke="#d88a84" stroke-width="0.6"/><path d="M107.20,45.17 A91.1,91.1 0 0 1 133.11,40.55" fill="none" stroke="#80ec98" stroke-width="1.4"/><path d="M106.80,43.99 A92.35,92.35 0 0 1 133.08,39.30" fill="none" stroke="#a6d4fa" stroke-width="1.2"/><path d="M104.70,37.68 A99.0,99.0 0 0 1 132.86,32.65 L133.06,38.70 A92.95,92.95 0 0 0 106.62,43.42 Z" fill="#eeeeee"/><rect x="108.73" y="38.44" width="0.8" height="0.8" fill="#cccccc"/><rect x="109.03" y="38.43" width="0.8" height="0.8" fill="#d0d0d0"/><rect x="109.25" y="37.44" width="0.8" height="0.8" fill="#d0d0d0"/><rect x="123.99" y="35.31" width="0.8" height="0.8" fill="#bbbbbb"/><rect x="115.51" y="35.49" width="0.8" height="0.8" fill="#aaaaaa"/><rect x="114.47" y="38.23" width="0.8" height="0.8" fill="#aaaaaa"/><rect x="124.50" y="34.38" width="0.8" height="0.8" fill="#aaaaaa"/><rect x="127.30" y="34.09" width="0.8" height="0.8" fill="#bbbbbb"/><rect x="114.18" y="38.63" width="0.8" height="0.8" fill="#aaaaaa"/><rect x="111.91" y="38.19" width="0.8" height="0.8" fill="#bbbbbb"/><rect x="114.95" y="37.08" width="0.8" height="0.8" fill="#bbbbbb"/><rect x="114.12" y="38.45" width="0.8" height="0.8" fill="#bbbbbb"/><rect x="111.27" y="38.36" width="0.8" height="0.8" fill="#d0d0d0"/><rect x="126.18" y="33.88" width="0.8" height="0.8" fill="#bbbbbb"/><rect x="127.12" y="33.97" width="0.8" height="0.8" fill="#bbbbbb"/><rect x="105.93" y="39.12" width="0.8" height="0.8" fill="#aaaaaa"/><rect x="130.24" y="34.67" width="0.8" height="0.8" fill="#bbbbbb"/><rect x="122.15" y="36.78" width="0.8" height="0.8" fill="#bbbbbb"/><rect x="116.56" y="35.24" width="0.8" height="0.8" fill="#aaaaaa"/><path d="M106.09,40.80 A95.6,95.6 0 0 1 132.64,36.06" fill="none" stroke="#c8c8c8" stroke-width="0.7" stroke-dasharray="0.6 0.9"/><line x1="107.74" y1="36.51" x2="106.92" y2="33.74" stroke="#6aaee0" stroke-width="0.6"/><line x1="109.23" y1="36.08" x2="108.76" y2="34.40" stroke="#6aaee0" stroke-width="0.6"/><line x1="131.68" y1="32.49" x2="131.46" y2="27.31" stroke="#6aaee0" stroke-width="0.6"/><line x1="130.03" y1="32.58" x2="129.91" y2="30.75" stroke="#6aaee0" stroke-width="0.6"/><line x1="121.13" y1="33.52" x2="120.34" y2="28.35" stroke="#6aaee0" stroke-width="0.6"/><line x1="116.87" y1="34.26" x2="116.18" y2="30.78" stroke="#6aaee0" stroke-width="0.6"/><line x1="129.56" y1="32.61" x2="129.22" y2="27.46" stroke="#6aaee0" stroke-width="0.6"/><line x1="120.76" y1="33.58" x2="120.36" y2="31.01" stroke="#6aaee0" stroke-width="0.6"/><line x1="125.28" y1="32.98" x2="124.80" y2="28.55" stroke="#6aaee0" stroke-width="0.6"/><line x1="112.58" y1="35.21" x2="111.79" y2="31.98" stroke="#6aaee0" stroke-width="0.6"/><line x1="124.11" y1="33.12" x2="123.82" y2="30.75" stroke="#6aaee0" stroke-width="0.6"/><line x1="115.37" y1="34.57" x2="114.60" y2="30.96" stroke="#6aaee0" stroke-width="0.6"/><path d="M101.29,27.43 A109.8,109.8 0 0 1 132.52,21.86 L132.64,25.45 A106.2,106.2 0 0 0 102.43,30.85 Z" fill="#ffffff"/><path d="M105.16,26.22 A109.8,109.8 0 0 1 106.41,25.86 L107.38,29.33 A106.2,106.2 0 0 0 106.17,29.68 Z" fill="#999999"/><path d="M107.24,25.63 A109.8,109.8 0 0 1 108.99,25.17 L109.88,28.66 A106.2,106.2 0 0 0 108.18,29.11 Z" fill="#444444"/><path d="M109.52,25.04 A109.8,109.8 0 0 1 112.01,24.45 L112.80,27.96 A106.2,106.2 0 0 0 110.38,28.54 Z" fill="#444444"/><path d="M114.89,23.85 A109.8,109.8 0 0 1 117.06,23.45 L117.68,26.99 A106.2,106.2 0 0 0 115.59,27.38 Z" fill="#000000"/><path d="M120.57,22.89 A109.8,109.8 0 0 1 122.87,22.59 L123.30,26.16 A106.2,106.2 0 0 0 121.07,26.45 Z" fill="#cccccc"/><path d="M125.76,22.28 A109.8,109.8 0 0 1 126.69,22.20 L127.00,25.78 A106.2,106.2 0 0 0 126.10,25.86 Z" fill="#444444"/><path d="M128.93,22.03 A109.8,109.8 0 0 1 131.26,21.90 L131.42,25.50 A106.2,106.2 0 0 0 129.16,25.62 Z" fill="#cccccc"/><path d="M112.57,24.33 A109.8,109.8 0 0 1 113.97,24.03 L114.70,27.56 A106.2,106.2 0 0 0 113.34,27.85 Z" fill="#e8000b"/><path d="M101.29,27.43 A109.8,109.8 0 0 1 132.52,21.86 L132.64,25.45 A106.2,106.2 0 0 0 102.43,30.85 Z" fill="none" stroke="#333" stroke-width="0.5"/><line x1="101.00" y1="26.58" x2="100.45" y2="24.92" stroke="#a8a8a8" stroke-width="1.3"/><line x1="102.97" y1="25.94" x2="102.08" y2="23.08" stroke="#a8a8a8" stroke-width="1.3"/><line x1="104.95" y1="25.34" x2="104.11" y2="22.46" stroke="#a8a8a8" stroke-width="1.3"/><line x1="106.94" y1="24.78" x2="106.15" y2="21.89" stroke="#a8a8a8" stroke-width="1.3"/><line x1="108.94" y1="24.26" x2="108.20" y2="21.35" stroke="#a8a8a8" stroke-width="1.3"/><line x1="110.95" y1="23.77" x2="110.27" y2="20.85" stroke="#a8a8a8" stroke-width="1.3"/><line x1="112.96" y1="23.32" x2="112.34" y2="20.39" stroke="#a8a8a8" stroke-width="1.3"/><line x1="114.99" y1="22.91" x2="114.42" y2="19.97" stroke="#a8a8a8" stroke-width="1.3"/><line x1="117.02" y1="22.54" x2="116.51" y2="19.58" stroke="#a8a8a8" stroke-width="1.3"/><line x1="119.06" y1="22.20" x2="118.60" y2="19.24" stroke="#a8a8a8" stroke-width="1.3"/><line x1="121.11" y1="21.91" x2="120.54" y2="17.69" stroke="#a8a8a8" stroke-width="1.3"/><line x1="123.16" y1="21.65" x2="122.67" y2="17.43" stroke="#a8a8a8" stroke-width="1.3"/><line x1="125.21" y1="21.43" x2="124.80" y2="17.20" stroke="#a8a8a8" stroke-width="1.3"/><line x1="127.27" y1="21.24" x2="126.94" y2="17.01" stroke="#a8a8a8" stroke-width="1.3"/><line x1="129.33" y1="21.10" x2="129.08" y2="16.86" stroke="#a8a8a8" stroke-width="1.3"/><line x1="131.40" y1="21.00" x2="131.22" y2="16.75" stroke="#a8a8a8" stroke-width="1.3"/><text x="0" y="2.0" font-size="5.9" text-anchor="middle" fill="#111" stroke="#111" stroke-width="0.15" transform="translate(115.09 14.45) rotate(349.88) scale(0.74 1)">CHRX</text><path d="M178.91,51.58 A90.8,90.8 0 0 1 183.71,54.35 L182.82,55.79 A89.1,89.1 0 0 0 178.10,53.08 Z" fill="#f0141e"/><path d="M184.66,52.81 A92.6,92.6 0 0 1 189.25,55.84 L188.44,56.98 A91.2,91.2 0 0 0 183.92,54.01 Z" fill="#1a1a2a"/></g>
<g><path d="M124.97,90.76 C132.09,117.12 143.65,118.70 157.56,95.21" fill="none" stroke="#9030ff" stroke-width="1.1" opacity="1.0"/><path d="M128.44,89.98 C133.32,116.84 143.55,118.64 157.28,95.04" fill="none" stroke="#9030ff" stroke-width="1.1" opacity="1.0"/><path d="M129.82,89.75 C133.81,116.76 143.75,118.76 157.85,95.38" fill="none" stroke="#9030ff" stroke-width="1.1" opacity="1.0"/><path d="M130.72,89.63 C134.13,116.72 145.88,120.31 163.86,99.77" fill="none" stroke="#9030ff" stroke-width="1.1" opacity="1.0"/><path d="M110.31,97.99 C126.89,119.68 143.65,118.70 157.56,95.21" fill="none" stroke="#9030ff" stroke-width="1.1" opacity="1.0"/><path d="M111.24,97.30 C127.22,119.44 143.85,118.82 158.13,95.55" fill="none" stroke="#9030ff" stroke-width="1.1" opacity="1.0"/><path d="M112.77,96.25 C127.76,119.06 145.97,120.39 164.11,99.99" fill="none" stroke="#9030ff" stroke-width="1.1" opacity="1.0"/><path d="M104.72,103.13 C124.91,121.50 123.54,139.94 100.85,155.13" fill="none" stroke="#9030ff" stroke-width="1.1" opacity="1.0"/><path d="M93.70,131.40 C121.00,131.53 143.75,118.76 157.85,95.38" fill="none" stroke="#9030ff" stroke-width="1.1" opacity="1.0"/><path d="M96.32,146.25 C121.93,136.80 143.55,118.64 157.28,95.04" fill="none" stroke="#9030ff" stroke-width="1.1" opacity="1.0"/><path d="M96.70,147.24 C122.06,137.15 143.65,118.70 157.56,95.21" fill="none" stroke="#9030ff" stroke-width="1.1" opacity="1.0"/><path d="M97.19,148.42 C122.24,137.57 143.85,118.82 158.13,95.55" fill="none" stroke="#9030ff" stroke-width="1.1" opacity="1.0"/><path d="M97.71,149.58 C122.42,137.98 143.75,118.76 157.85,95.38" fill="none" stroke="#9030ff" stroke-width="1.1" opacity="1.0"/><path d="M109.40,164.49 C126.57,143.26 143.65,118.70 157.56,95.21" fill="none" stroke="#9030ff" stroke-width="1.1" opacity="1.0"/><path d="M113.99,167.72 C128.20,144.41 143.75,118.76 157.85,95.38" fill="none" stroke="#9030ff" stroke-width="1.1" opacity="1.0"/><path d="M123.73,172.08 C131.65,145.95 143.55,118.64 157.28,95.04" fill="none" stroke="#9030ff" stroke-width="1.1" opacity="1.0"/><path d="M136.30,173.90 C136.11,146.60 146.06,120.47 164.36,100.21" fill="none" stroke="#9030ff" stroke-width="1.1" opacity="1.0"/><path d="M139.20,173.78 C137.13,146.56 145.88,120.31 163.86,99.77" fill="none" stroke="#9030ff" stroke-width="1.1" opacity="1.0"/><path d="M177.83,137.88 C150.83,133.83 135.11,146.57 133.50,173.83" fill="none" stroke="#9030ff" stroke-width="1.1" opacity="1.0"/><path d="M176.85,142.60 C150.48,135.50 145.97,120.39 164.11,99.99" fill="none" stroke="#9030ff" stroke-width="1.1" opacity="1.0"/><path d="M175.16,147.59 C149.89,137.27 146.06,120.47 164.36,100.21" fill="none" stroke="#9030ff" stroke-width="1.1" opacity="1.0"/><path d="M167.92,159.36 C147.32,141.44 145.88,120.31 163.86,99.77" fill="none" stroke="#9030ff" stroke-width="1.1" opacity="1.0"/><path d="M168.59,158.56 C147.56,141.16 145.97,120.39 164.11,99.99" fill="none" stroke="#9030ff" stroke-width="1.1" opacity="1.0"/><path d="M169.29,157.70 C147.80,140.85 146.06,120.47 164.36,100.21" fill="none" stroke="#9030ff" stroke-width="1.1" opacity="1.0"/><path d="M169.96,156.82 C148.04,140.54 146.14,120.55 164.60,100.44" fill="none" stroke="#9030ff" stroke-width="1.1" opacity="1.0"/><path d="M174.83,114.83 C149.77,125.65 146.06,120.47 164.36,100.21" fill="none" stroke="#9030ff" stroke-width="1.1" opacity="1.0"/><path d="M157.72,95.30 C143.70,118.73 146.04,120.45 164.30,100.16" fill="none" stroke="#d47c7c" stroke-width="0.95" opacity="1.0"/><path d="M104.72,103.13 C124.91,121.50 124.97,121.44 104.89,102.94" fill="none" stroke="#d47c7c" stroke-width="0.95" opacity="1.0"/><path d="M94.51,123.34 C121.29,128.67 121.30,128.60 94.56,123.13" fill="none" stroke="#d47c7c" stroke-width="0.95" opacity="1.0"/><path d="M95.55,143.96 C121.66,135.98 121.63,135.90 95.47,143.72" fill="none" stroke="#d47c7c" stroke-width="0.95" opacity="1.0"/><path d="M171.35,154.83 C148.54,139.84 148.60,139.73 171.55,154.53" fill="none" stroke="#d47c7c" stroke-width="0.95" opacity="1.0"/><path d="M162.22,164.79 C145.30,143.37 145.37,143.31 162.44,164.62" fill="none" stroke="#d47c7c" stroke-width="0.95" opacity="1.0"/></g>
<text x="9.6" y="25.6" font-size="16" text-anchor="start" fill="#000" font-weight="bold" stroke="#000" stroke-width="0.4" textLength="12.6" lengthAdjust="spacingAndGlyphs">A</text>
<line x1="9.5" y1="241.5" x2="23" y2="241.5" stroke="#a46cff" stroke-width="1.5"/>
<text x="0" y="0" font-size="6.1" fill="#111" stroke="#111" stroke-width="0.08" transform="translate(27.4 243.50) scale(0.86 1)">Translocation</text>
<line x1="9.5" y1="247.77" x2="23" y2="247.77" stroke="#dca0a0" stroke-width="1.5"/>
<text x="0" y="0" font-size="6.1" fill="#111" stroke="#111" stroke-width="0.08" transform="translate(27.4 249.77) scale(0.86 1)">Inversion</text>
<line x1="9.5" y1="254.04" x2="23" y2="254.04" stroke="#ff6474" stroke-width="1.5"/>
<text x="0" y="0" font-size="6.1" fill="#111" stroke="#111" stroke-width="0.08" transform="translate(27.4 256.04) scale(0.86 1)">Duplication</text>
<line x1="9.5" y1="260.31" x2="23" y2="260.31" stroke="#444444" stroke-width="1.2"/>
<text x="0" y="0" font-size="6.1" fill="#111" stroke="#111" stroke-width="0.08" transform="translate(27.4 262.31) scale(0.86 1)">Deletion</text>
<text x="276.5" y="25.8" font-size="16" text-anchor="start" fill="#000" font-weight="bold" stroke="#000" stroke-width="0.3">B</text>
<line x1="312.5" y1="62.5" x2="312.5" y2="193.0" stroke="#000" stroke-width="1.3"/>
<line x1="311.9" y1="192.4" x2="509" y2="192.4" stroke="#000" stroke-width="1.3"/>
<line x1="308.6" y1="192.4" x2="312.5" y2="192.4" stroke="#000" stroke-width="1.2"/>
<text x="308.7" y="196.4" font-size="11" text-anchor="end" fill="#000">0</text>
<line x1="308.6" y1="160.0" x2="312.5" y2="160.0" stroke="#000" stroke-width="1.2"/>
<text x="308.7" y="164.0" font-size="11" text-anchor="end" fill="#000">5</text>
<line x1="308.6" y1="127.6" x2="312.5" y2="127.6" stroke="#000" stroke-width="1.2"/>
<text x="308.7" y="131.6" font-size="11" text-anchor="end" fill="#000">10</text>
<line x1="308.6" y1="95.2" x2="312.5" y2="95.2" stroke="#000" stroke-width="1.2"/>
<text x="308.7" y="99.2" font-size="11" text-anchor="end" fill="#000">15</text>
<line x1="308.6" y1="62.79999999999998" x2="312.5" y2="62.79999999999998" stroke="#000" stroke-width="1.2"/>
<text x="308.7" y="66.79999999999998" font-size="11" text-anchor="end" fill="#000">20</text>
<text x="287.8" y="126.9" font-size="11" text-anchor="middle" fill="#000" transform="rotate(-90 287.8 126.9)">Relative MIF mRNA level</text>
<rect x="316.80" y="119.31" width="19.3" height="73.09" fill="#c51330"/>
<line x1="326.45" y1="108.7432" x2="326.45" y2="119.3056" stroke="#000" stroke-width="1.3"/>
<line x1="321.15" y1="108.7432" x2="331.75" y2="108.7432" stroke="#000" stroke-width="1.3"/>
<line x1="326.45" y1="192.4" x2="326.45" y2="195.9" stroke="#000" stroke-width="1.2"/>
<rect x="344.85" y="112.63" width="19.3" height="79.77" fill="#c51330"/>
<line x1="354.5" y1="107.6416" x2="354.5" y2="112.63119999999999" stroke="#000" stroke-width="1.3"/>
<line x1="349.2" y1="107.6416" x2="359.8" y2="107.6416" stroke="#000" stroke-width="1.3"/>
<line x1="354.5" y1="192.4" x2="354.5" y2="195.9" stroke="#000" stroke-width="1.2"/>
<rect x="372.80" y="87.88" width="19.3" height="104.52" fill="#c51330"/>
<line x1="382.45" y1="81.916" x2="382.45" y2="87.8776" stroke="#000" stroke-width="1.3"/>
<line x1="377.15" y1="81.916" x2="387.75" y2="81.916" stroke="#000" stroke-width="1.3"/>
<line x1="382.45" y1="192.4" x2="382.45" y2="195.9" stroke="#000" stroke-width="1.2"/>
<rect x="401.25" y="185.79" width="19.3" height="6.61" fill="#c51330"/>
<line x1="410.9" y1="184.88320000000002" x2="410.9" y2="185.7904" stroke="#000" stroke-width="1.3"/>
<line x1="405.59999999999997" y1="184.88320000000002" x2="416.2" y2="184.88320000000002" stroke="#000" stroke-width="1.3"/>
<line x1="410.9" y1="192.4" x2="410.9" y2="195.9" stroke="#000" stroke-width="1.2"/>
<rect x="428.65" y="188.19" width="19.3" height="4.21" fill="#c51330"/>
<line x1="438.3" y1="187.0864" x2="438.3" y2="188.18800000000002" stroke="#000" stroke-width="1.3"/>
<line x1="433.0" y1="187.0864" x2="443.6" y2="187.0864" stroke="#000" stroke-width="1.3"/>
<line x1="438.3" y1="192.4" x2="438.3" y2="195.9" stroke="#000" stroke-width="1.2"/>
<rect x="456.65" y="177.69" width="19.3" height="14.71" fill="#c51330"/>
<line x1="466.3" y1="175.4872" x2="466.3" y2="177.6904" stroke="#000" stroke-width="1.3"/>
<line x1="461.0" y1="175.4872" x2="471.6" y2="175.4872" stroke="#000" stroke-width="1.3"/>
<line x1="466.3" y1="192.4" x2="466.3" y2="195.9" stroke="#000" stroke-width="1.2"/>
<rect x="484.55" y="183.20" width="19.3" height="9.20" fill="#c51330"/>
<line x1="494.2" y1="182.4856" x2="494.2" y2="183.1984" stroke="#000" stroke-width="1.3"/>
<line x1="488.9" y1="182.4856" x2="499.5" y2="182.4856" stroke="#000" stroke-width="1.3"/>
<line x1="494.2" y1="192.4" x2="494.2" y2="195.9" stroke="#000" stroke-width="1.2"/>
<text x="329.75" y="207.70000000000002" font-size="11" text-anchor="end" fill="#000" transform="rotate(-33 329.75 207.70000000000002)">Patient-1</text>
<text x="357.8" y="207.70000000000002" font-size="11" text-anchor="end" fill="#000" transform="rotate(-33 357.8 207.70000000000002)">Patient-2</text>
<text x="385.75" y="207.70000000000002" font-size="11" text-anchor="end" fill="#000" transform="rotate(-33 385.75 207.70000000000002)">Patient-3</text>
<text x="414.2" y="207.70000000000002" font-size="11" text-anchor="end" fill="#000" transform="rotate(-33 414.2 207.70000000000002)">N1</text>
<text x="441.6" y="207.70000000000002" font-size="11" text-anchor="end" fill="#000" transform="rotate(-33 441.6 207.70000000000002)">N2</text>
<text x="469.6" y="207.70000000000002" font-size="11" text-anchor="end" fill="#000" transform="rotate(-33 469.6 207.70000000000002)">N3</text>
<text x="497.5" y="207.70000000000002" font-size="11" text-anchor="end" fill="#000" transform="rotate(-33 497.5 207.70000000000002)">N4</text>
<line x1="327.4" y1="76.9" x2="383.4" y2="76.9" stroke="#111" stroke-width="1.3"/>
<line x1="357.4" y1="66.8" x2="467.7" y2="66.8" stroke="#111" stroke-width="1.3"/>
<line x1="357.4" y1="66.2" x2="357.4" y2="70.6" stroke="#111" stroke-width="1.2"/>
<line x1="467.7" y1="66.2" x2="467.7" y2="70.6" stroke="#111" stroke-width="1.2"/>
<line x1="414.4" y1="76.9" x2="493.8" y2="76.9" stroke="#111" stroke-width="1.3"/>
<polygon points="406.30,57.17 407.06,58.83 408.87,59.04 407.53,60.28 407.89,62.06 406.30,61.17 404.71,62.06 405.07,60.28 403.73,59.04 405.54,58.83" fill="#000"/>
<polygon points="412.10,57.17 412.86,58.83 414.67,59.04 413.33,60.28 413.69,62.06 412.10,61.17 410.51,62.06 410.87,60.28 409.53,59.04 411.34,58.83" fill="#000"/>
<polygon points="418.00,57.17 418.76,58.83 420.57,59.04 419.23,60.28 419.59,62.06 418.00,61.17 416.41,62.06 416.77,60.28 415.43,59.04 417.24,58.83" fill="#000"/>
<text x="10" y="285.3" font-size="16" text-anchor="start" fill="#000" font-weight="bold" stroke="#000" stroke-width="0.3">C</text>
<line x1="71.2" y1="285.5" x2="71.2" y2="346.8" stroke="#000" stroke-width="1.3"/>
<line x1="71.2" y1="355.4" x2="71.2" y2="417.35" stroke="#000" stroke-width="1.3"/>
<line x1="71.2" y1="346.2" x2="74.60000000000001" y2="346.2" stroke="#000" stroke-width="1.2"/>
<line x1="71.2" y1="356" x2="74.60000000000001" y2="356" stroke="#000" stroke-width="1.2"/>
<line x1="70.60000000000001" y1="416.75" x2="267" y2="416.75" stroke="#000" stroke-width="1.3"/>
<line x1="66" y1="346.25" x2="71.2" y2="346.25" stroke="#000" stroke-width="1.2"/>
<text x="66.2" y="350.25" font-size="11" text-anchor="end" fill="#000">500</text>
<line x1="66" y1="331.125" x2="71.2" y2="331.125" stroke="#000" stroke-width="1.2"/>
<text x="66.2" y="335.125" font-size="11" text-anchor="end" fill="#000">1000</text>
<line x1="66" y1="316.0" x2="71.2" y2="316.0" stroke="#000" stroke-width="1.2"/>
<text x="66.2" y="320.0" font-size="11" text-anchor="end" fill="#000">1500</text>
<line x1="66" y1="300.875" x2="71.2" y2="300.875" stroke="#000" stroke-width="1.2"/>
<text x="66.2" y="304.875" font-size="11" text-anchor="end" fill="#000">2000</text>
<line x1="66" y1="285.75" x2="71.2" y2="285.75" stroke="#000" stroke-width="1.2"/>
<text x="66.2" y="289.75" font-size="11" text-anchor="end" fill="#000">2500</text>
<line x1="66" y1="416.75" x2="71.2" y2="416.75" stroke="#000" stroke-width="1.2"/>
<text x="66.2" y="420.75" font-size="11" text-anchor="end" fill="#000">0</text>
<line x1="66" y1="396.5" x2="71.2" y2="396.5" stroke="#000" stroke-width="1.2"/>
<text x="66.2" y="400.5" font-size="11" text-anchor="end" fill="#000">100</text>
<line x1="66" y1="376.25" x2="71.2" y2="376.25" stroke="#000" stroke-width="1.2"/>
<text x="66.2" y="380.25" font-size="11" text-anchor="end" fill="#000">200</text>
<line x1="66" y1="356.0" x2="71.2" y2="356.0" stroke="#000" stroke-width="1.2"/>
<text x="66.2" y="360.0" font-size="11" text-anchor="end" fill="#000">300</text>
<text x="36" y="352.3" font-size="11" text-anchor="middle" fill="#000" transform="rotate(-90 36 352.3)">BM MIF level (pg/mL)</text>
<rect x="74.80" y="328.70" width="19.6" height="17.90" fill="#c51330"/>
<rect x="74.80" y="355.4" width="19.6" height="61.35" fill="#c51330"/>
<line x1="84.6" y1="323.5625" x2="84.6" y2="328.705" stroke="#000" stroke-width="1.3"/>
<line x1="79.6" y1="323.5625" x2="89.6" y2="323.5625" stroke="#000" stroke-width="1.3"/>
<line x1="84.6" y1="416.75" x2="84.6" y2="420.75" stroke="#000" stroke-width="1.2"/>
<rect x="102.80" y="307.23" width="19.6" height="39.37" fill="#c51330"/>
<rect x="102.80" y="355.4" width="19.6" height="61.35" fill="#c51330"/>
<line x1="112.6" y1="304.505" x2="112.6" y2="307.2275" stroke="#000" stroke-width="1.3"/>
<line x1="107.6" y1="304.505" x2="117.6" y2="304.505" stroke="#000" stroke-width="1.3"/>
<line x1="112.6" y1="416.75" x2="112.6" y2="420.75" stroke="#000" stroke-width="1.2"/>
<rect x="130.80" y="296.34" width="19.6" height="50.26" fill="#c51330"/>
<rect x="130.80" y="355.4" width="19.6" height="61.35" fill="#c51330"/>
<line x1="140.6" y1="291.8" x2="140.6" y2="296.3375" stroke="#000" stroke-width="1.3"/>
<line x1="135.6" y1="291.8" x2="145.6" y2="291.8" stroke="#000" stroke-width="1.3"/>
<line x1="140.6" y1="416.75" x2="140.6" y2="420.75" stroke="#000" stroke-width="1.2"/>
<rect x="158.80" y="405.41" width="19.6" height="11.34" fill="#c51330"/>
<line x1="168.6" y1="402.575" x2="168.6" y2="405.41" stroke="#000" stroke-width="1.3"/>
<line x1="163.6" y1="402.575" x2="173.6" y2="402.575" stroke="#000" stroke-width="1.3"/>
<line x1="168.6" y1="416.75" x2="168.6" y2="420.75" stroke="#000" stroke-width="1.2"/>
<rect x="186.80" y="403.38" width="19.6" height="13.37" fill="#c51330"/>
<line x1="196.6" y1="400.145" x2="196.6" y2="403.385" stroke="#000" stroke-width="1.3"/>
<line x1="191.6" y1="400.145" x2="201.6" y2="400.145" stroke="#000" stroke-width="1.3"/>
<line x1="196.6" y1="416.75" x2="196.6" y2="420.75" stroke="#000" stroke-width="1.2"/>
<rect x="214.80" y="387.39" width="19.6" height="29.36" fill="#c51330"/>
<line x1="224.6" y1="384.755" x2="224.6" y2="387.3875" stroke="#000" stroke-width="1.3"/>
<line x1="219.6" y1="384.755" x2="229.6" y2="384.755" stroke="#000" stroke-width="1.3"/>
<line x1="224.6" y1="416.75" x2="224.6" y2="420.75" stroke="#000" stroke-width="1.2"/>
<rect x="242.80" y="399.54" width="19.6" height="17.21" fill="#c51330"/>
<line x1="252.6" y1="397.1075" x2="252.6" y2="399.5375" stroke="#000" stroke-width="1.3"/>
<line x1="247.6" y1="397.1075" x2="257.6" y2="397.1075" stroke="#000" stroke-width="1.3"/>
<line x1="252.6" y1="416.75" x2="252.6" y2="420.75" stroke="#000" stroke-width="1.2"/>
<text x="88.39999999999999" y="429.55" font-size="11" text-anchor="end" fill="#000" transform="rotate(-45 88.39999999999999 429.55)">Patient-1</text>
<text x="116.39999999999999" y="429.55" font-size="11" text-anchor="end" fill="#000" transform="rotate(-45 116.39999999999999 429.55)">Patient-2</text>
<text x="144.4" y="429.55" font-size="11" text-anchor="end" fill="#000" transform="rotate(-45 144.4 429.55)">Patient-3</text>
<text x="172.4" y="429.55" font-size="11" text-anchor="end" fill="#000" transform="rotate(-45 172.4 429.55)">N1</text>
<text x="200.4" y="429.55" font-size="11" text-anchor="end" fill="#000" transform="rotate(-45 200.4 429.55)">N2</text>
<text x="228.4" y="429.55" font-size="11" text-anchor="end" fill="#000" transform="rotate(-45 228.4 429.55)">N3</text>
<text x="256.4" y="429.55" font-size="11" text-anchor="end" fill="#000" transform="rotate(-45 256.4 429.55)">N4</text>
<line x1="83.7" y1="286.3" x2="141" y2="286.3" stroke="#111" stroke-width="1.3"/>
<line x1="112.1" y1="277.2" x2="211.3" y2="277.2" stroke="#111" stroke-width="1.3"/>
<line x1="112.1" y1="276.6" x2="112.1" y2="281.2" stroke="#111" stroke-width="1.2"/>
<line x1="211.3" y1="276.6" x2="211.3" y2="281" stroke="#111" stroke-width="1.2"/>
<line x1="169.9" y1="286.2" x2="246.6" y2="286.2" stroke="#111" stroke-width="1.3"/>
<polygon points="158.10,269.82 158.81,271.35 160.48,271.55 159.24,272.70 159.57,274.35 158.10,273.52 156.63,274.35 156.96,272.70 155.72,271.55 157.39,271.35" fill="#000"/>
<polygon points="163.80,269.82 164.51,271.35 166.18,271.55 164.94,272.70 165.27,274.35 163.80,273.52 162.33,274.35 162.66,272.70 161.42,271.55 163.09,271.35" fill="#000"/>
<text x="276.5" y="285.3" font-size="16" text-anchor="start" fill="#000" font-weight="bold" stroke="#000" stroke-width="0.3">D</text>
<line x1="318.1" y1="295.5" x2="318.1" y2="420.6" stroke="#000" stroke-width="1.3"/>
<line x1="317.5" y1="420.0" x2="505.5" y2="420.0" stroke="#000" stroke-width="1.3"/>
<line x1="314" y1="420.0" x2="318.1" y2="420.0" stroke="#000" stroke-width="1.2"/>
<text x="313.5" y="424.0" font-size="11" text-anchor="end" fill="#000">0</text>
<line x1="314" y1="378.75" x2="318.1" y2="378.75" stroke="#000" stroke-width="1.2"/>
<text x="313.5" y="382.75" font-size="11" text-anchor="end" fill="#000">200</text>
<line x1="314" y1="337.5" x2="318.1" y2="337.5" stroke="#000" stroke-width="1.2"/>
<text x="313.5" y="341.5" font-size="11" text-anchor="end" fill="#000">400</text>
<line x1="314" y1="296.25" x2="318.1" y2="296.25" stroke="#000" stroke-width="1.2"/>
<text x="313.5" y="300.25" font-size="11" text-anchor="end" fill="#000">600</text>
<text x="290.1" y="356.4" font-size="11" text-anchor="middle" fill="#000" transform="rotate(-90 290.1 356.4)">Serum MIF level (pg/mL)</text>
<line x1="349.6" y1="420.0" x2="349.6" y2="423.4" stroke="#000" stroke-width="1.2"/>
<text x="349.6" y="433.6" font-size="11" text-anchor="middle" fill="#000">TEMPI</text>
<line x1="411.2" y1="420.0" x2="411.2" y2="423.4" stroke="#000" stroke-width="1.2"/>
<text x="411.2" y="433.6" font-size="11" text-anchor="middle" fill="#000">MM</text>
<line x1="473.2" y1="420.0" x2="473.2" y2="423.4" stroke="#000" stroke-width="1.2"/>
<text x="473.2" y="433.6" font-size="11" text-anchor="middle" fill="#000">NC</text>
<line x1="328" y1="372" x2="370.5" y2="372" stroke="#000" stroke-width="1.3"/>
<line x1="338" y1="358.5" x2="360.5" y2="358.5" stroke="#000" stroke-width="1.3"/>
<line x1="338" y1="385.8" x2="360.5" y2="385.8" stroke="#000" stroke-width="1.3"/>
<line x1="349.4" y1="358.5" x2="349.4" y2="385.8" stroke="#000" stroke-width="1.3"/>
<circle cx="349.2" cy="347" r="2.5" fill="#0d4e8c"/>
<circle cx="349.2" cy="377" r="2.5" fill="#0d4e8c"/>
<circle cx="349.2" cy="392.5" r="2.5" fill="#0d4e8c"/>
<rect x="408.80" y="306.30" width="5.2" height="5.2" fill="#ec1b24"/>
<rect x="401.60" y="322.20" width="5.2" height="5.2" fill="#ec1b24"/>
<rect x="408.80" y="323.70" width="5.2" height="5.2" fill="#ec1b24"/>
<rect x="408.80" y="334.50" width="5.2" height="5.2" fill="#ec1b24"/>
<rect x="416.00" y="332.80" width="5.2" height="5.2" fill="#ec1b24"/>
<rect x="401.30" y="348.70" width="5.2" height="5.2" fill="#ec1b24"/>
<rect x="408.80" y="352.40" width="5.2" height="5.2" fill="#ec1b24"/>
<rect x="416.00" y="348.10" width="5.2" height="5.2" fill="#ec1b24"/>
<rect x="416.10" y="363.70" width="5.2" height="5.2" fill="#ec1b24"/>
<rect x="408.80" y="368.60" width="5.2" height="5.2" fill="#ec1b24"/>
<rect x="405.00" y="372.10" width="5.2" height="5.2" fill="#ec1b24"/>
<rect x="393.70" y="373.10" width="5.2" height="5.2" fill="#ec1b24"/>
<rect x="401.15" y="376.00" width="5.2" height="5.2" fill="#ec1b24"/>
<rect x="401.15" y="379.40" width="5.2" height="5.2" fill="#ec1b24"/>
<rect x="408.80" y="376.90" width="5.2" height="5.2" fill="#ec1b24"/>
<rect x="416.10" y="374.00" width="5.2" height="5.2" fill="#ec1b24"/>
<rect x="423.70" y="371.60" width="5.2" height="5.2" fill="#ec1b24"/>
<rect x="423.70" y="377.90" width="5.2" height="5.2" fill="#ec1b24"/>
<rect x="423.70" y="378.40" width="5.2" height="5.2" fill="#ec1b24"/>
<rect x="393.65" y="385.60" width="5.2" height="5.2" fill="#ec1b24"/>
<rect x="400.90" y="387.00" width="5.2" height="5.2" fill="#ec1b24"/>
<rect x="408.40" y="384.60" width="5.2" height="5.2" fill="#ec1b24"/>
<rect x="416.00" y="384.60" width="5.2" height="5.2" fill="#ec1b24"/>
<rect x="416.00" y="388.90" width="5.2" height="5.2" fill="#ec1b24"/>
<rect x="408.40" y="392.30" width="5.2" height="5.2" fill="#ec1b24"/>
<rect x="397.30" y="395.20" width="5.2" height="5.2" fill="#ec1b24"/>
<rect x="419.90" y="395.20" width="5.2" height="5.2" fill="#ec1b24"/>
<rect x="393.40" y="397.60" width="5.2" height="5.2" fill="#ec1b24"/>
<rect x="423.40" y="397.60" width="5.2" height="5.2" fill="#ec1b24"/>
<rect x="392" y="399.5" width="38.2" height="20" fill="#ec1b24"/>
<rect x="398.7" y="410" width="1.6" height="5.8" fill="#fff"/>
<rect x="406.2" y="410" width="1.6" height="5.8" fill="#fff"/>
<rect x="413.7" y="410" width="1.6" height="5.8" fill="#fff"/>
<rect x="421.7" y="410" width="1.6" height="5.8" fill="#fff"/>
<rect x="396.5" y="406" width="1" height="1" fill="#fff"/>
<rect x="404.5" y="406" width="1" height="1" fill="#fff"/>
<rect x="416.5" y="406" width="1" height="1" fill="#fff"/>
<rect x="424.5" y="406" width="1" height="1" fill="#fff"/>
<line x1="389.8" y1="403.2" x2="432.7" y2="403.2" stroke="#000" stroke-width="1.1"/>
<line x1="400" y1="401.1" x2="422" y2="401.1" stroke="#000" stroke-width="0.9"/>
<line x1="400" y1="405.2" x2="422" y2="405.2" stroke="#000" stroke-width="0.9"/>
<line x1="452.2" y1="419.2" x2="494.6" y2="419.2" stroke="#000" stroke-width="1.3"/>
<rect x="461.90" y="417.00" width="2.2" height="2.0" fill="#22b04a"/>
<rect x="464.50" y="417.40" width="2.2" height="2.0" fill="#22b04a"/>
<rect x="467.10" y="416.80" width="2.2" height="2.0" fill="#22b04a"/>
<rect x="469.70" y="417.30" width="2.2" height="2.0" fill="#22b04a"/>
<rect x="472.30" y="417.00" width="2.2" height="2.0" fill="#22b04a"/>
<rect x="474.90" y="417.50" width="2.2" height="2.0" fill="#22b04a"/>
<rect x="477.50" y="416.90" width="2.2" height="2.0" fill="#22b04a"/>
<rect x="480.10" y="417.20" width="2.2" height="2.0" fill="#22b04a"/>
<rect x="482.70" y="417.40" width="2.2" height="2.0" fill="#22b04a"/>
<rect x="485.30" y="417.00" width="2.2" height="2.0" fill="#22b04a"/>
<rect x="487.90" y="417.30" width="2.2" height="2.0" fill="#22b04a"/>
<line x1="346.6" y1="285.1" x2="483.4" y2="285.1" stroke="#111" stroke-width="1.3"/>
<line x1="346.6" y1="284.5" x2="346.6" y2="288.6" stroke="#111" stroke-width="1.2"/>
<line x1="483.4" y1="284.5" x2="483.4" y2="288.6" stroke="#111" stroke-width="1.2"/>
<polygon points="411.80,276.20 412.48,277.67 414.08,277.86 412.90,278.96 413.21,280.54 411.80,279.75 410.39,280.54 410.70,278.96 409.52,277.86 411.12,277.67" fill="#000"/>
<polygon points="417.30,276.20 417.98,277.67 419.58,277.86 418.40,278.96 418.71,280.54 417.30,279.75 415.89,280.54 416.20,278.96 415.02,277.86 416.62,277.67" fill="#000"/>
<line x1="346.9" y1="297" x2="409.5" y2="297" stroke="#111" stroke-width="1.3"/>
<line x1="346.9" y1="296.4" x2="346.9" y2="300.6" stroke="#111" stroke-width="1.2"/>
<line x1="409.5" y1="296.4" x2="409.5" y2="300.6" stroke="#111" stroke-width="1.2"/>
<polygon points="375.10,291.10 375.78,292.57 377.38,292.76 376.20,293.86 376.51,295.44 375.10,294.65 373.69,295.44 374.00,293.86 372.82,292.76 374.42,292.57" fill="#000"/>
<line x1="414.2" y1="297.2" x2="472.3" y2="297.2" stroke="#111" stroke-width="1.3"/>
<line x1="414.2" y1="296.6" x2="414.2" y2="300.8" stroke="#111" stroke-width="1.2"/>
<line x1="472.3" y1="296.6" x2="472.3" y2="300.8" stroke="#111" stroke-width="1.2"/>
<polygon points="441.50,291.50 442.18,292.97 443.78,293.16 442.60,294.26 442.91,295.84 441.50,295.05 440.09,295.84 440.40,294.26 439.22,293.16 440.82,292.97" fill="#000"/>
<text x="10.5" y="482.1" font-size="16" text-anchor="start" fill="#000" font-weight="bold" stroke="#000" stroke-width="0.3">E</text>
<line x1="67.45" y1="477.7" x2="67.45" y2="608.6" stroke="#000" stroke-width="1.3"/>
<line x1="66.85000000000001" y1="608.0" x2="263.7" y2="608.0" stroke="#000" stroke-width="1.3"/>
<line x1="63" y1="608.0" x2="67.45" y2="608.0" stroke="#000" stroke-width="1.2"/>
<text x="62.6" y="612.0" font-size="11" text-anchor="end" fill="#000">0</text>
<line x1="63" y1="564.7" x2="67.45" y2="564.7" stroke="#000" stroke-width="1.2"/>
<text x="62.6" y="568.7" font-size="11" text-anchor="end" fill="#000">50</text>
<line x1="63" y1="521.4" x2="67.45" y2="521.4" stroke="#000" stroke-width="1.2"/>
<text x="62.6" y="525.4" font-size="11" text-anchor="end" fill="#000">100</text>
<line x1="63" y1="478.1" x2="67.45" y2="478.1" stroke="#000" stroke-width="1.2"/>
<text x="62.6" y="482.1" font-size="11" text-anchor="end" fill="#000">150</text>
<text x="39.25" y="543.2" font-size="11" text-anchor="middle" fill="#000" transform="rotate(-90 39.25 543.2)">Serum MIF level (pg/mL)</text>
<polyline points="81.5,494 109.5,535 137.5,550 165.5,590.25 193.5,587.75 221.5,599.5 249.4,590.6" fill="none" stroke="#c51330" stroke-width="1.7"/>
<circle cx="81.5" cy="494" r="2.4" fill="#c51330"/>
<circle cx="109.5" cy="535" r="2.4" fill="#c51330"/>
<circle cx="137.5" cy="550" r="2.4" fill="#c51330"/>
<circle cx="165.5" cy="590.25" r="2.4" fill="#c51330"/>
<circle cx="193.5" cy="587.75" r="2.4" fill="#c51330"/>
<circle cx="221.5" cy="599.5" r="2.4" fill="#c51330"/>
<circle cx="249.4" cy="590.6" r="2.4" fill="#c51330"/>
<line x1="81.5" y1="608.0" x2="81.5" y2="611.7" stroke="#000" stroke-width="1.2"/>
<text x="85.0" y="621.3" font-size="11" text-anchor="end" fill="#000" transform="rotate(-26 85.0 621.3)">Pretreatment</text>
<line x1="109.5" y1="608.0" x2="109.5" y2="611.7" stroke="#000" stroke-width="1.2"/>
<text x="113.0" y="621.3" font-size="11" text-anchor="end" fill="#000" transform="rotate(-26 113.0 621.3)">after cycle1</text>
<line x1="137.5" y1="608.0" x2="137.5" y2="611.7" stroke="#000" stroke-width="1.2"/>
<text x="141.0" y="621.3" font-size="11" text-anchor="end" fill="#000" transform="rotate(-26 141.0 621.3)">after cycle2</text>
<line x1="165.5" y1="608.0" x2="165.5" y2="611.7" stroke="#000" stroke-width="1.2"/>
<text x="169.0" y="621.3" font-size="11" text-anchor="end" fill="#000" transform="rotate(-26 169.0 621.3)">after cycle3</text>
<line x1="193.5" y1="608.0" x2="193.5" y2="611.7" stroke="#000" stroke-width="1.2"/>
<text x="197.0" y="621.3" font-size="11" text-anchor="end" fill="#000" transform="rotate(-26 197.0 621.3)">after cycle2</text>
<line x1="221.5" y1="608.0" x2="221.5" y2="611.7" stroke="#000" stroke-width="1.2"/>
<text x="225.0" y="621.3" font-size="11" text-anchor="end" fill="#000" transform="rotate(-26 225.0 621.3)">after cycle3</text>
<line x1="249.5" y1="608.0" x2="249.5" y2="611.7" stroke="#000" stroke-width="1.2"/>
<text x="253.0" y="621.3" font-size="11" text-anchor="end" fill="#000" transform="rotate(-26 253.0 621.3)">after cycle3</text>
<text x="33.8" y="657.2" font-size="8.3" text-anchor="start" fill="#000">Treatment</text>
<line x1="77" y1="651.4" x2="137" y2="651.4" stroke="#000" stroke-width="1.4"/>
<line x1="138.2" y1="656.8" x2="238.8" y2="656.8" stroke="#000" stroke-width="1.4"/>
<text x="111.6" y="662.3" font-size="9" text-anchor="middle" fill="#000">TCD</text>
<text x="194.6" y="667.5" font-size="9" text-anchor="middle" fill="#000">VCD</text>
<rect x="0" y="0" width="520" height="1.5" fill="#000"/>
<rect x="0" y="0" width="1.8" height="681" fill="#000"/>
<rect x="518.2" y="0" width="1.8" height="681" fill="#2a2a2a"/>
<rect x="0" y="679.2" width="520" height="1.8" fill="#2a2a2a"/>
</svg>
</body></html>
